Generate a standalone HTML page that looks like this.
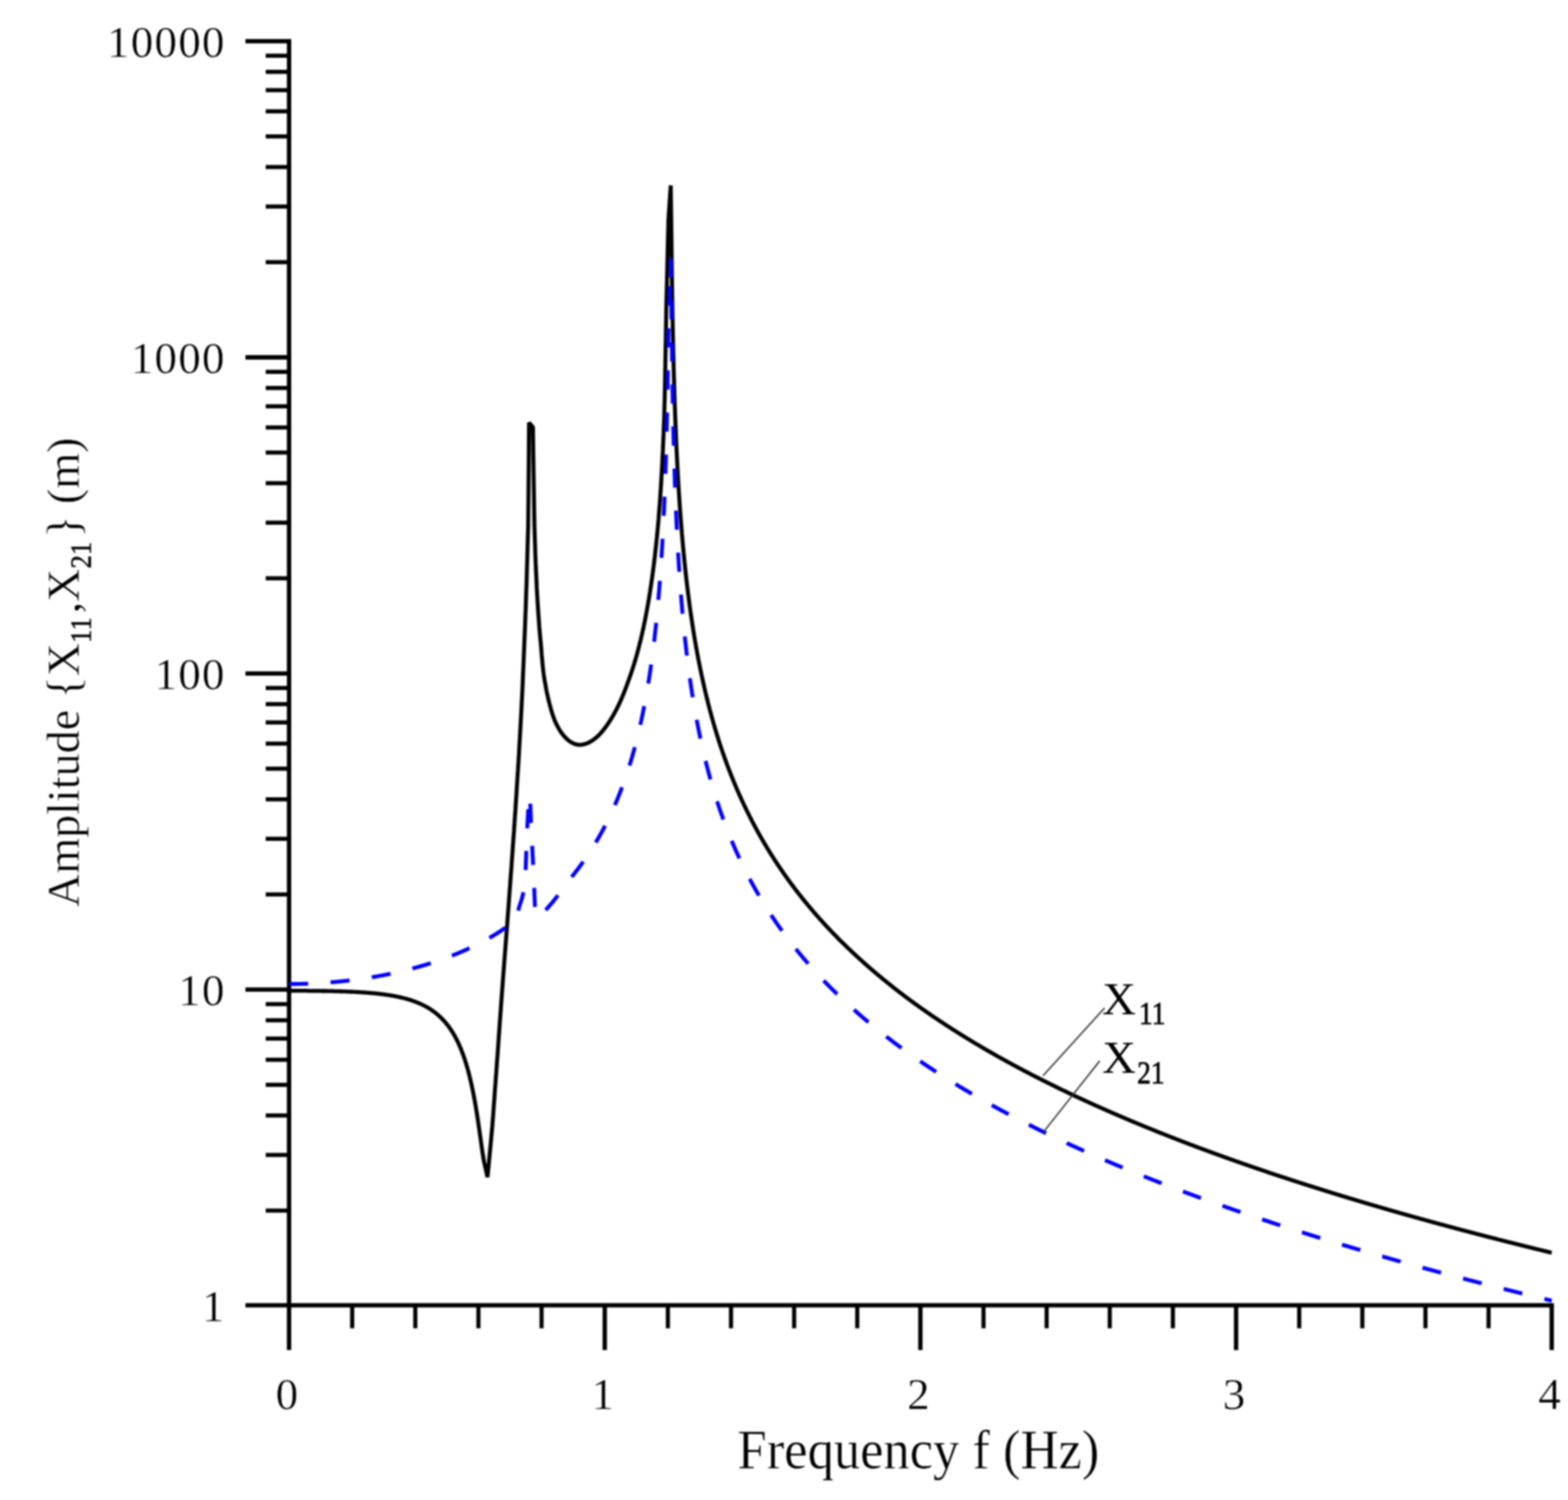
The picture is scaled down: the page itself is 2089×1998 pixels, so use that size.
<!DOCTYPE html>
<html lang="en">
<head>
<meta charset="utf-8">
<title>Amplitude vs Frequency</title>
<style>
html,body{margin:0;padding:0;background:#fff;}
body{width:2089px;height:1998px;overflow:hidden;}
svg{display:block;filter:blur(0.8px);}
</style>
</head>
<body>
<svg xmlns="http://www.w3.org/2000/svg" width="2089" height="1998" viewBox="0 0 2089 1998">
<rect width="2089" height="1998" fill="#fff"/>
<g stroke="#000" fill="none" stroke-linecap="butt">
<line x1="385.1" y1="52.0" x2="385.1" y2="1798.3" stroke-width="5.8"/>
<line x1="327" y1="1738.7" x2="2070.2" y2="1738.7" stroke-width="5.8"/>
<line x1="354" y1="1612.5" x2="385.1" y2="1612.5" stroke-width="5.5"/>
<line x1="354" y1="1538.4" x2="385.1" y2="1538.4" stroke-width="5.5"/>
<line x1="354" y1="1485.8" x2="385.1" y2="1485.8" stroke-width="5.5"/>
<line x1="354" y1="1445.0" x2="385.1" y2="1445.0" stroke-width="5.5"/>
<line x1="354" y1="1411.6" x2="385.1" y2="1411.6" stroke-width="5.5"/>
<line x1="354" y1="1383.4" x2="385.1" y2="1383.4" stroke-width="5.5"/>
<line x1="354" y1="1359.0" x2="385.1" y2="1359.0" stroke-width="5.5"/>
<line x1="354" y1="1337.5" x2="385.1" y2="1337.5" stroke-width="5.5"/>
<line x1="327" y1="1318.2" x2="385.1" y2="1318.2" stroke-width="5.8"/>
<line x1="354" y1="1191.4" x2="385.1" y2="1191.4" stroke-width="5.5"/>
<line x1="354" y1="1117.3" x2="385.1" y2="1117.3" stroke-width="5.5"/>
<line x1="354" y1="1064.7" x2="385.1" y2="1064.7" stroke-width="5.5"/>
<line x1="354" y1="1023.9" x2="385.1" y2="1023.9" stroke-width="5.5"/>
<line x1="354" y1="990.5" x2="385.1" y2="990.5" stroke-width="5.5"/>
<line x1="354" y1="962.3" x2="385.1" y2="962.3" stroke-width="5.5"/>
<line x1="354" y1="937.9" x2="385.1" y2="937.9" stroke-width="5.5"/>
<line x1="354" y1="916.4" x2="385.1" y2="916.4" stroke-width="5.5"/>
<line x1="327" y1="897.1" x2="385.1" y2="897.1" stroke-width="5.8"/>
<line x1="354" y1="770.3" x2="385.1" y2="770.3" stroke-width="5.5"/>
<line x1="354" y1="696.2" x2="385.1" y2="696.2" stroke-width="5.5"/>
<line x1="354" y1="643.6" x2="385.1" y2="643.6" stroke-width="5.5"/>
<line x1="354" y1="602.8" x2="385.1" y2="602.8" stroke-width="5.5"/>
<line x1="354" y1="569.4" x2="385.1" y2="569.4" stroke-width="5.5"/>
<line x1="354" y1="541.2" x2="385.1" y2="541.2" stroke-width="5.5"/>
<line x1="354" y1="516.8" x2="385.1" y2="516.8" stroke-width="5.5"/>
<line x1="354" y1="495.3" x2="385.1" y2="495.3" stroke-width="5.5"/>
<line x1="327" y1="476.0" x2="385.1" y2="476.0" stroke-width="5.8"/>
<line x1="354" y1="349.2" x2="385.1" y2="349.2" stroke-width="5.5"/>
<line x1="354" y1="275.1" x2="385.1" y2="275.1" stroke-width="5.5"/>
<line x1="354" y1="222.5" x2="385.1" y2="222.5" stroke-width="5.5"/>
<line x1="354" y1="181.7" x2="385.1" y2="181.7" stroke-width="5.5"/>
<line x1="354" y1="148.3" x2="385.1" y2="148.3" stroke-width="5.5"/>
<line x1="354" y1="120.1" x2="385.1" y2="120.1" stroke-width="5.5"/>
<line x1="354" y1="95.7" x2="385.1" y2="95.7" stroke-width="5.5"/>
<line x1="354" y1="74.2" x2="385.1" y2="74.2" stroke-width="5.5"/>
<line x1="327" y1="54.9" x2="385.1" y2="54.9" stroke-width="5.8"/>
<line x1="469.2" y1="1739.3" x2="469.2" y2="1769.3" stroke-width="5.5"/>
<line x1="553.3" y1="1739.3" x2="553.3" y2="1769.3" stroke-width="5.5"/>
<line x1="637.4" y1="1739.3" x2="637.4" y2="1769.3" stroke-width="5.5"/>
<line x1="721.5" y1="1739.3" x2="721.5" y2="1769.3" stroke-width="5.5"/>
<line x1="805.7" y1="1739.3" x2="805.7" y2="1798.3" stroke-width="5.8"/>
<line x1="889.8" y1="1739.3" x2="889.8" y2="1769.3" stroke-width="5.5"/>
<line x1="973.9" y1="1739.3" x2="973.9" y2="1769.3" stroke-width="5.5"/>
<line x1="1058.0" y1="1739.3" x2="1058.0" y2="1769.3" stroke-width="5.5"/>
<line x1="1142.1" y1="1739.3" x2="1142.1" y2="1769.3" stroke-width="5.5"/>
<line x1="1226.2" y1="1739.3" x2="1226.2" y2="1798.3" stroke-width="5.8"/>
<line x1="1310.3" y1="1739.3" x2="1310.3" y2="1769.3" stroke-width="5.5"/>
<line x1="1394.4" y1="1739.3" x2="1394.4" y2="1769.3" stroke-width="5.5"/>
<line x1="1478.5" y1="1739.3" x2="1478.5" y2="1769.3" stroke-width="5.5"/>
<line x1="1562.6" y1="1739.3" x2="1562.6" y2="1769.3" stroke-width="5.5"/>
<line x1="1646.8" y1="1739.3" x2="1646.8" y2="1798.3" stroke-width="5.8"/>
<line x1="1730.9" y1="1739.3" x2="1730.9" y2="1769.3" stroke-width="5.5"/>
<line x1="1815.0" y1="1739.3" x2="1815.0" y2="1769.3" stroke-width="5.5"/>
<line x1="1899.1" y1="1739.3" x2="1899.1" y2="1769.3" stroke-width="5.5"/>
<line x1="1983.2" y1="1739.3" x2="1983.2" y2="1769.3" stroke-width="5.5"/>
<line x1="2067.3" y1="1739.3" x2="2067.3" y2="1798.3" stroke-width="5.8"/>
</g>
<path d="M385.1,1319.7 L386.1,1319.7 L387.1,1319.7 L388.1,1319.7 L389.1,1319.7 L390.1,1319.7 L391.1,1319.7 L392.1,1319.7 L393.1,1319.7 L394.1,1319.7 L395.1,1319.7 L396.1,1319.7 L397.1,1319.7 L398.1,1319.7 L399.1,1319.7 L400.1,1319.7 L401.1,1319.7 L402.1,1319.7 L403.1,1319.7 L404.1,1319.7 L405.1,1319.7 L406.1,1319.7 L407.1,1319.7 L408.1,1319.7 L409.1,1319.7 L410.1,1319.8 L411.1,1319.8 L412.1,1319.8 L413.1,1319.8 L414.1,1319.8 L415.1,1319.8 L416.1,1319.8 L417.1,1319.8 L418.1,1319.8 L419.1,1319.8 L420.1,1319.8 L421.1,1319.9 L422.1,1319.9 L423.1,1319.9 L424.1,1319.9 L425.1,1319.9 L426.1,1319.9 L427.1,1319.9 L428.1,1319.9 L429.1,1320.0 L430.1,1320.0 L431.1,1320.0 L432.1,1320.0 L433.1,1320.0 L434.1,1320.0 L435.1,1320.1 L436.1,1320.1 L437.1,1320.1 L438.1,1320.1 L439.1,1320.1 L440.1,1320.1 L441.1,1320.2 L442.1,1320.2 L443.1,1320.2 L444.1,1320.2 L445.1,1320.3 L446.1,1320.3 L447.1,1320.3 L448.1,1320.3 L449.1,1320.4 L450.1,1320.4 L451.1,1320.4 L452.1,1320.4 L453.1,1320.5 L454.1,1320.5 L455.1,1320.5 L456.1,1320.6 L457.1,1320.6 L458.1,1320.6 L459.1,1320.7 L460.1,1320.7 L461.1,1320.7 L462.1,1320.8 L463.1,1320.8 L464.1,1320.9 L465.1,1320.9 L466.1,1320.9 L467.1,1321.0 L468.1,1321.0 L469.1,1321.1 L470.1,1321.1 L471.1,1321.2 L472.1,1321.2 L473.1,1321.3 L474.1,1321.3 L475.1,1321.4 L476.1,1321.4 L477.1,1321.5 L478.1,1321.5 L479.1,1321.6 L480.1,1321.6 L481.1,1321.7 L482.1,1321.8 L483.1,1321.8 L484.1,1321.9 L485.1,1322.0 L486.1,1322.0 L487.1,1322.1 L488.1,1322.2 L489.1,1322.3 L490.1,1322.3 L491.1,1322.4 L492.1,1322.5 L493.1,1322.6 L494.1,1322.7 L495.1,1322.8 L496.1,1322.8 L497.1,1322.9 L498.1,1323.0 L499.1,1323.1 L500.1,1323.2 L501.1,1323.3 L502.1,1323.4 L503.1,1323.5 L504.1,1323.6 L505.1,1323.8 L506.1,1323.9 L507.1,1324.0 L508.1,1324.1 L509.1,1324.2 L510.1,1324.4 L511.1,1324.5 L512.1,1324.6 L513.1,1324.8 L514.1,1324.9 L515.0,1325.0 L516.0,1325.2 L517.0,1325.3 L518.0,1325.5 L519.0,1325.6 L520.0,1325.8 L521.0,1326.0 L522.0,1326.1 L523.0,1326.3 L524.0,1326.5 L525.0,1326.7 L526.0,1326.9 L527.0,1327.1 L528.0,1327.3 L529.0,1327.5 L530.0,1327.7 L531.0,1327.9 L532.0,1328.1 L533.0,1328.3 L534.0,1328.6 L535.0,1328.8 L536.0,1329.0 L537.0,1329.3 L538.0,1329.5 L539.0,1329.8 L540.0,1330.0 L541.0,1330.3 L542.0,1330.6 L543.0,1330.9 L544.0,1331.2 L545.0,1331.5 L546.0,1331.8 L547.0,1332.1 L548.0,1332.4 L549.0,1332.8 L550.0,1333.1 L551.0,1333.5 L552.0,1333.8 L553.0,1334.2 L554.0,1334.6 L555.0,1335.0 L556.0,1335.4 L557.0,1335.8 L558.0,1336.2 L559.0,1336.6 L560.0,1337.1 L561.0,1337.5 L562.0,1338.0 L563.0,1338.5 L564.0,1339.0 L565.0,1339.5 L566.0,1340.0 L567.0,1340.5 L568.0,1341.1 L569.0,1341.6 L570.0,1342.2 L571.0,1342.8 L572.0,1343.4 L573.0,1344.1 L574.0,1344.7 L575.0,1345.4 L576.0,1346.1 L577.0,1346.8 L578.0,1347.5 L579.0,1348.2 L580.0,1349.0 L581.0,1349.8 L582.0,1350.6 L583.0,1351.5 L584.0,1352.3 L585.0,1353.2 L586.0,1354.1 L587.0,1355.1 L588.0,1356.1 L589.0,1357.1 L590.0,1358.1 L591.0,1359.2 L592.0,1360.3 L593.0,1361.4 L594.0,1362.6 L595.0,1363.8 L596.0,1365.1 L597.0,1366.4 L598.0,1367.7 L599.0,1369.1 L600.0,1370.5 L601.0,1372.0 L602.0,1373.6 L603.0,1375.2 L604.0,1376.8 L605.0,1378.5 L606.0,1380.3 L607.0,1382.1 L608.0,1384.0 L609.0,1386.0 L610.0,1388.0 L611.0,1390.2 L612.0,1392.4 L613.0,1394.7 L614.0,1397.1 L615.0,1399.6 L616.0,1402.2 L617.0,1404.9 L618.0,1407.7 L619.0,1410.6 L620.0,1413.7 L621.0,1416.9 L622.0,1420.3 L623.0,1423.8 L624.0,1427.4 L625.0,1431.3 L626.0,1435.3 L627.0,1439.5 L628.0,1443.9 L629.0,1448.5 L630.0,1453.3 L631.0,1458.4 L632.0,1463.7 L633.0,1469.2 L634.0,1475.1 L635.0,1481.1 L636.0,1487.5 L637.0,1494.1 L638.0,1500.9 L639.0,1507.9 L640.0,1515.0 L641.0,1522.2 L642.0,1529.3 L643.0,1536.2 L644.0,1542.5 L645.0,1548.0 L649.5,1568.0 L653.5,1525.9 L654.1,1520.1 L654.6,1514.0 L655.2,1507.6 L655.8,1500.9 L656.3,1494.0 L656.9,1487.0 L657.4,1479.8 L657.9,1472.6 L658.5,1465.2 L659.0,1457.8 L659.5,1450.4 L660.1,1443.0 L660.6,1435.6 L661.2,1428.2 L661.7,1420.8 L662.2,1413.5 L662.8,1406.2 L663.3,1398.9 L663.8,1391.7 L664.3,1384.5 L664.8,1377.3 L665.3,1370.3 L665.8,1363.2 L666.3,1356.2 L666.8,1349.3 L667.3,1342.4 L667.8,1335.5 L668.3,1328.7 L668.8,1322.0 L669.3,1315.3 L669.8,1308.6 L670.3,1301.9 L670.8,1295.3 L671.3,1288.7 L671.8,1282.2 L672.3,1275.6 L672.8,1269.1 L673.3,1262.7 L673.8,1256.2 L674.3,1249.8 L674.8,1243.3 L675.3,1236.9 L675.8,1230.5 L676.2,1224.1 L676.7,1217.7 L677.2,1211.3 L677.7,1204.9 L678.1,1198.5 L678.6,1192.1 L679.1,1185.6 L679.6,1179.2 L680.0,1172.7 L680.5,1166.3 L681.0,1159.8 L681.5,1153.2 L681.9,1146.7 L682.4,1140.1 L682.9,1133.5 L683.3,1126.8 L683.8,1120.1 L684.3,1113.4 L684.8,1106.5 L685.2,1099.7 L685.7,1092.8 L686.2,1085.8 L686.7,1078.7 L687.1,1071.5 L687.6,1064.3 L688.1,1057.0 L688.5,1049.6 L689.0,1042.1 L689.5,1034.4 L690.0,1026.7 L690.5,1018.8 L691.0,1010.8 L691.5,1002.6 L691.9,994.3 L692.4,985.8 L692.9,977.1 L693.4,968.2 L693.9,959.1 L694.4,949.8 L694.9,940.2 L695.4,930.3 L695.9,920.1 L696.4,909.5 L696.8,898.6 L697.3,887.3 L697.8,875.5 L698.3,863.2 L698.8,850.4 L699.4,836.9 L699.9,822.6 L700.5,807.5 L701.0,791.5 L701.6,774.3 L702.1,755.8 L702.7,735.7 L703.3,713.6 L703.7,700.0 L704.5,612.0 L704.8,563.0 L710.0,569.0 L710.6,612.0 L712.0,700.0 L712.3,709.7 L712.8,724.7 L713.2,738.3 L713.7,750.7 L714.2,762.1 L714.7,772.6 L715.1,782.4 L715.6,791.4 L716.1,799.9 L716.6,807.8 L717.1,815.3 L717.6,822.3 L718.1,828.9 L718.5,835.2 L719.0,841.1 L719.5,846.8 L720.0,852.1 L720.5,857.2 L720.9,862.1 L721.3,866.7 L721.6,871.2 L722.0,875.4 L722.4,879.5 L722.7,883.4 L723.1,887.1 L723.5,890.7 L723.9,894.2 L724.3,897.5 L724.7,900.7 L725.2,903.7 L725.7,906.7 L726.2,909.6 L726.7,912.3 L727.2,915.0 L727.6,917.5 L728.1,920.0 L728.6,922.4 L729.1,924.7 L729.6,927.0 L730.1,929.2 L730.6,931.3 L731.1,933.4 L731.6,935.4 L732.1,937.4 L732.6,939.3 L733.1,941.1 L733.6,942.9 L734.1,944.7 L734.5,946.3 L735.0,948.0 L735.5,949.6 L736.0,951.1 L736.5,952.6 L737.0,954.1 L737.5,955.5 L738.0,956.8 L738.5,958.2 L739.0,959.5 L739.5,960.7 L740.0,961.9 L740.6,963.1 L741.2,964.3 L741.7,965.4 L742.3,966.5 L742.9,967.6 L743.4,968.6 L744.0,969.6 L744.5,970.6 L745.1,971.5 L745.6,972.5 L746.2,973.3 L746.7,974.2 L747.3,975.0 L747.8,975.8 L748.4,976.5 L748.9,977.3 L749.4,978.0 L750.0,978.7 L750.5,979.3 L751.1,980.0 L751.6,980.6 L752.1,981.2 L752.7,981.8 L753.2,982.4 L753.7,982.9 L754.3,983.4 L754.8,983.9 L755.3,984.4 L755.8,984.9 L756.4,985.4 L756.9,985.8 L757.4,986.2 L757.9,986.6 L758.5,987.0 L759.0,987.4 L759.5,987.7 L760.0,988.1 L760.5,988.4 L761.0,988.7 L761.5,989.0 L762.0,989.3 L762.5,989.5 L763.0,989.8 L763.5,990.0 L764.0,990.3 L764.5,990.5 L765.0,990.7 L765.5,990.9 L766.0,991.0 L766.5,991.2 L767.0,991.3 L767.5,991.5 L768.0,991.6 L768.5,991.7 L769.0,991.8 L769.5,991.9 L770.0,992.0 L770.5,992.0 L771.0,992.1 L771.5,992.1 L772.0,992.1 L772.5,992.1 L773.0,992.1 L773.5,992.1 L774.0,992.0 L774.5,992.0 L775.0,991.9 L775.5,991.9 L776.0,991.8 L776.5,991.7 L777.0,991.6 L777.5,991.5 L778.0,991.4 L778.5,991.2 L779.0,991.1 L779.5,991.0 L780.0,990.8 L780.5,990.6 L781.0,990.5 L781.5,990.3 L782.0,990.1 L782.5,989.9 L783.0,989.7 L783.5,989.4 L784.0,989.2 L784.5,989.0 L785.0,988.7 L785.5,988.5 L786.0,988.2 L786.5,987.9 L787.0,987.6 L787.5,987.3 L788.0,987.0 L788.5,986.7 L789.0,986.4 L789.5,986.1 L790.0,985.7 L790.5,985.4 L791.0,985.0 L791.5,984.7 L792.0,984.3 L792.5,983.9 L793.0,983.5 L793.5,983.1 L794.0,982.7 L794.5,982.3 L795.0,981.9 L795.5,981.4 L796.0,981.0 L796.5,980.5 L797.0,980.1 L797.5,979.6 L798.0,979.1 L798.5,978.5 L799.0,978.0 L799.5,977.5 L800.0,976.9 L800.5,976.3 L801.0,975.8 L801.5,975.2 L802.0,974.6 L802.5,974.0 L803.0,973.4 L803.5,972.8 L804.0,972.2 L804.5,971.6 L805.0,970.9 L805.5,970.3 L806.0,969.6 L806.5,968.9 L807.0,968.3 L807.5,967.6 L808.0,966.9 L808.5,966.2 L809.0,965.5 L809.5,964.8 L810.0,964.0 L810.5,963.3 L811.0,962.6 L811.5,961.8 L812.0,961.0 L812.5,960.2 L813.0,959.5 L813.5,958.7 L814.0,957.8 L814.5,957.0 L815.0,956.2 L815.5,955.4 L816.0,954.5 L816.5,953.7 L817.0,952.8 L817.5,951.9 L818.0,951.0 L818.5,950.1 L819.0,949.2 L819.5,948.3 L820.0,947.4 L820.5,946.4 L821.0,945.5 L821.5,944.5 L822.0,943.5 L822.5,942.5 L823.0,941.5 L823.5,940.5 L824.0,939.5 L824.5,938.5 L825.0,937.4 L825.5,936.3 L826.0,935.2 L826.5,934.1 L827.0,933.0 L827.5,931.8 L828.0,930.7 L828.5,929.5 L829.0,928.3 L829.5,927.1 L830.0,925.9 L830.5,924.7 L831.0,923.4 L831.5,922.2 L832.0,920.9 L832.5,919.6 L833.0,918.3 L833.5,917.0 L834.0,915.7 L834.5,914.3 L835.0,913.0 L835.5,911.6 L836.0,910.2 L836.5,908.8 L837.0,907.4 L837.5,906.1 L838.0,904.7 L838.5,903.3 L839.0,901.9 L839.5,900.5 L840.0,899.1 L840.5,897.6 L841.0,896.2 L841.5,894.7 L842.0,893.2 L842.5,891.6 L843.0,890.1 L843.5,888.5 L844.0,886.9 L844.5,885.3 L845.0,883.7 L845.5,882.0 L846.0,880.4 L846.5,878.7 L847.0,877.0 L847.5,875.2 L848.0,873.5 L848.5,871.7 L849.0,869.9 L849.5,868.0 L850.0,866.2 L850.5,864.3 L851.0,862.4 L851.5,860.4 L852.0,858.5 L852.5,856.5 L853.0,854.4 L853.5,852.4 L854.0,850.3 L854.5,848.2 L855.0,846.0 L855.5,843.8 L856.0,841.6 L856.5,839.3 L857.0,837.0 L857.5,834.7 L858.0,832.3 L858.5,829.9 L859.0,827.5 L859.5,825.0 L860.0,822.5 L860.5,819.9 L861.0,817.3 L861.5,814.6 L862.0,811.9 L862.5,809.1 L863.0,806.3 L863.5,803.5 L864.0,800.5 L864.5,797.6 L865.0,794.5 L865.5,791.4 L866.0,788.3 L866.5,785.0 L867.0,781.7 L867.5,778.4 L868.0,774.9 L868.5,771.4 L869.0,767.8 L869.5,764.2 L870.0,760.4 L870.5,756.5 L871.0,752.6 L871.5,748.6 L872.0,744.4 L872.5,740.2 L873.0,735.8 L873.5,731.3 L874.0,726.7 L874.5,722.0 L875.0,717.1 L875.5,712.0 L876.0,706.9 L876.5,701.5 L877.0,696.0 L877.5,690.3 L877.9,684.3 L878.4,678.2 L878.9,671.9 L879.4,665.3 L879.8,658.4 L880.3,651.2 L880.8,643.8 L881.2,636.0 L881.7,627.8 L882.2,619.2 L882.6,610.2 L883.1,600.7 L883.5,590.6 L884.0,580.0 L884.4,568.6 L884.9,556.5 L885.2,543.5 L885.6,529.4 L885.9,514.1 L886.2,497.4 L886.5,479.0 L886.9,458.5 L887.3,435.3 L887.7,408.6 L888.5,377.3 L889.4,339.5 L890.6,291.6 L893.6,247.0 L894.5,311.4 L895.0,355.6 L895.5,391.2 L896.0,421.1 L896.5,446.8 L897.0,469.4 L897.5,489.5 L898.0,507.7 L898.5,524.3 L899.0,539.5 L899.5,553.6 L900.0,566.7 L900.5,578.9 L901.0,590.5 L901.5,601.3 L902.0,611.6 L902.5,621.3 L903.0,630.6 L903.5,639.4 L904.0,647.9 L904.5,656.0 L905.0,663.7 L905.5,671.2 L906.0,678.4 L906.5,685.3 L907.0,692.0 L907.5,698.5 L908.0,704.7 L908.5,710.8 L909.0,716.7 L909.5,722.4 L910.0,728.0 L910.5,733.3 L911.0,738.6 L911.5,743.7 L912.0,748.7 L912.5,753.6 L913.0,758.3 L913.5,762.9 L914.0,767.5 L914.5,771.9 L915.0,776.2 L915.5,780.5 L916.0,784.6 L916.5,788.7 L917.0,792.7 L917.5,796.6 L918.0,800.4 L918.5,804.2 L919.0,807.9 L919.5,811.5 L920.0,815.1 L920.5,818.6 L921.0,822.0 L921.5,825.4 L922.0,828.7 L922.5,832.0 L923.0,835.2 L923.5,838.4 L924.0,841.5 L924.5,844.6 L925.0,847.7 L925.5,850.6 L926.0,853.6 L926.5,856.5 L927.0,859.4 L927.5,862.2 L928.0,865.0 L928.5,867.7 L929.0,870.4 L929.5,873.1 L930.0,875.8 L930.5,878.4 L931.0,881.0 L931.5,883.5 L932.0,886.0 L932.5,888.5 L933.0,891.0 L933.5,893.4 L934.0,895.8 L934.5,898.2 L935.0,900.5 L935.5,902.9 L936.0,905.2 L936.5,907.4 L937.0,909.7 L937.5,911.9 L938.0,914.1 L938.5,916.3 L939.0,918.4 L939.5,920.6 L940.0,922.7 L940.5,924.8 L941.0,926.9 L941.5,928.9 L942.0,931.0 L942.5,933.0 L943.0,935.0 L943.5,936.9 L944.0,938.9 L944.5,940.8 L945.0,942.8 L945.5,944.7 L946.0,946.6 L946.5,948.4 L947.0,950.3 L947.5,952.1 L948.0,954.0 L948.5,955.8 L949.0,957.6 L949.5,959.4 L950.0,961.1 L950.5,962.9 L951.0,964.6 L951.5,966.4 L952.0,968.1 L952.5,969.8 L953.0,971.5 L953.5,973.1 L954.0,974.8 L954.5,976.4 L955.0,978.1 L955.5,979.7 L956.0,981.3 L956.5,982.9 L957.0,984.5 L957.5,986.1 L958.0,987.7 L958.5,989.2 L959.0,990.8 L959.5,992.3 L960.0,993.8 L960.5,995.3 L961.0,996.8 L961.5,998.3 L962.0,999.7 L962.5,1001.2 L963.0,1002.7 L963.5,1004.1 L964.0,1005.5 L964.5,1006.9 L965.0,1008.3 L965.5,1009.7 L966.0,1011.1 L966.5,1012.5 L967.0,1013.9 L967.5,1015.3 L968.0,1016.6 L968.5,1018.0 L969.0,1019.3 L969.5,1020.7 L970.0,1022.0 L970.5,1023.3 L971.0,1024.6 L971.5,1025.9 L972.0,1027.2 L972.5,1028.5 L973.0,1029.8 L973.5,1031.0 L974.0,1032.3 L974.5,1033.6 L975.0,1034.8 L975.5,1036.1 L976.0,1037.3 L976.5,1038.5 L977.0,1039.7 L977.5,1041.0 L978.0,1042.2 L978.5,1043.4 L979.0,1044.6 L979.5,1045.8 L980.0,1047.0 L980.5,1048.1 L981.0,1049.3 L981.5,1050.5 L982.0,1051.6 L982.5,1052.8 L983.0,1053.9 L983.5,1055.1 L984.0,1056.2 L984.5,1057.3 L985.0,1058.5 L985.5,1059.6 L986.0,1060.7 L986.5,1061.8 L987.0,1062.9 L987.5,1064.0 L988.0,1065.1 L988.5,1066.2 L989.0,1067.3 L989.5,1068.4 L990.0,1069.4 L990.5,1070.5 L991.0,1071.6 L991.5,1072.6 L992.0,1073.7 L992.5,1074.7 L993.0,1075.8 L993.5,1076.8 L994.0,1077.8 L994.5,1078.9 L995.0,1079.9 L995.5,1080.9 L996.0,1081.9 L996.5,1082.9 L997.0,1083.9 L997.5,1084.9 L998.0,1085.9 L998.5,1086.9 L999.0,1087.9 L999.5,1088.9 L1000.0,1089.9 L1000.5,1090.8 L1001.0,1091.8 L1001.5,1092.8 L1002.0,1093.8 L1002.5,1094.7 L1003.0,1095.7 L1003.5,1096.6 L1004.0,1097.6 L1004.5,1098.5 L1005.0,1099.5 L1005.5,1100.4 L1006.0,1101.3 L1006.5,1102.3 L1007.0,1103.2 L1007.5,1104.1 L1008.0,1105.0 L1008.5,1105.9 L1009.0,1106.8 L1009.5,1107.7 L1010.0,1108.7 L1010.5,1109.6 L1011.0,1110.4 L1011.5,1111.3 L1012.0,1112.2 L1012.5,1113.1 L1013.0,1114.0 L1013.5,1114.9 L1014.0,1115.8 L1014.5,1116.6 L1015.0,1117.5 L1015.5,1118.4 L1016.0,1119.2 L1016.5,1120.1 L1017.0,1120.9 L1017.5,1121.8 L1018.0,1122.7 L1018.5,1123.5 L1019.0,1124.3 L1019.5,1125.2 L1020.0,1126.0 L1020.5,1126.9 L1021.0,1127.7 L1021.5,1128.5 L1022.0,1129.4 L1022.5,1130.2 L1023.0,1131.0 L1023.5,1131.8 L1024.0,1132.6 L1024.5,1133.4 L1025.0,1134.3 L1025.5,1135.1 L1026.0,1135.9 L1026.5,1136.7 L1027.0,1137.5 L1027.5,1138.3 L1028.0,1139.1 L1028.5,1139.8 L1029.0,1140.6 L1029.5,1141.4 L1030.0,1142.2 L1030.5,1143.0 L1031.0,1143.8 L1031.5,1144.5 L1032.0,1145.3 L1032.5,1146.1 L1033.0,1146.9 L1033.5,1147.6 L1034.0,1148.4 L1034.5,1149.1 L1035.0,1149.9 L1035.5,1150.7 L1036.0,1151.4 L1036.5,1152.2 L1037.0,1152.9 L1037.5,1153.7 L1038.0,1154.4 L1038.5,1155.1 L1039.0,1155.9 L1039.5,1156.6 L1040.0,1157.4 L1040.5,1158.1 L1041.0,1158.8 L1041.5,1159.5 L1042.0,1160.3 L1042.5,1161.0 L1043.0,1161.7 L1043.5,1162.4 L1044.0,1163.2 L1044.5,1163.9 L1045.0,1164.6 L1045.5,1165.3 L1046.0,1166.0 L1046.5,1166.7 L1047.0,1167.4 L1047.5,1168.1 L1048.0,1168.8 L1048.5,1169.5 L1049.0,1170.2 L1049.5,1170.9 L1050.0,1171.6 L1050.5,1172.3 L1051.0,1173.0 L1051.5,1173.7 L1052.0,1174.4 L1052.5,1175.0 L1053.0,1175.7 L1053.5,1176.4 L1054.0,1177.1 L1054.5,1177.7 L1055.0,1178.4 L1055.5,1179.1 L1056.0,1179.8 L1056.5,1180.4 L1057.0,1181.1 L1057.5,1181.8 L1058.0,1182.4 L1058.5,1183.1 L1059.0,1183.7 L1059.5,1184.4 L1060.0,1185.1 L1060.5,1185.7 L1061.0,1186.4 L1061.5,1187.0 L1062.0,1187.7 L1062.5,1188.3 L1063.0,1188.9 L1063.5,1189.6 L1064.0,1190.2 L1064.5,1190.9 L1065.0,1191.5 L1065.5,1192.1 L1066.0,1192.8 L1066.5,1193.4 L1067.0,1194.0 L1067.5,1194.7 L1068.0,1195.3 L1068.5,1195.9 L1069.0,1196.6 L1069.5,1197.2 L1070.0,1197.8 L1070.5,1198.4 L1071.0,1199.0 L1071.5,1199.7 L1072.0,1200.3 L1072.5,1200.9 L1073.0,1201.5 L1073.5,1202.1 L1074.0,1202.7 L1074.5,1203.3 L1075.0,1203.9 L1075.5,1204.5 L1076.0,1205.1 L1076.5,1205.8 L1077.0,1206.4 L1077.5,1207.0 L1078.0,1207.5 L1078.5,1208.1 L1079.0,1208.7 L1079.5,1209.3 L1080.0,1209.9 L1080.5,1210.5 L1081.0,1211.1 L1081.5,1211.7 L1082.0,1212.3 L1082.5,1212.9 L1083.0,1213.5 L1083.5,1214.0 L1084.0,1214.6 L1084.5,1215.2 L1085.0,1215.8 L1085.5,1216.3 L1086.0,1216.9 L1086.5,1217.5 L1087.0,1218.1 L1087.5,1218.6 L1088.0,1219.2 L1088.5,1219.8 L1089.0,1220.4 L1089.5,1220.9 L1090.0,1221.5 L1090.5,1222.0 L1091.0,1222.6 L1091.5,1223.2 L1092.0,1223.7 L1092.5,1224.3 L1093.0,1224.8 L1093.5,1225.4 L1094.0,1226.0 L1094.5,1226.5 L1095.0,1227.1 L1095.5,1227.6 L1096.0,1228.2 L1096.5,1228.7 L1097.0,1229.3 L1097.5,1229.8 L1098.0,1230.4 L1098.5,1230.9 L1099.0,1231.4 L1099.5,1232.0 L1100.0,1232.5 L1100.5,1233.1 L1101.0,1233.6 L1101.5,1234.1 L1102.0,1234.7 L1102.5,1235.2 L1103.0,1235.8 L1103.5,1236.3 L1104.0,1236.8 L1104.5,1237.3 L1105.0,1237.9 L1105.5,1238.4 L1106.0,1238.9 L1106.5,1239.5 L1107.0,1240.0 L1107.5,1240.5 L1108.0,1241.0 L1108.5,1241.6 L1109.0,1242.1 L1109.5,1242.6 L1110.0,1243.1 L1110.5,1243.6 L1111.0,1244.1 L1111.5,1244.7 L1112.0,1245.2 L1112.5,1245.7 L1113.0,1246.2 L1113.5,1246.7 L1114.0,1247.2 L1114.5,1247.7 L1115.0,1248.2 L1115.5,1248.7 L1116.0,1249.3 L1116.5,1249.8 L1117.0,1250.3 L1117.5,1250.8 L1118.0,1251.3 L1118.5,1251.8 L1119.0,1252.3 L1119.5,1252.8 L1120.0,1253.3 L1120.5,1253.8 L1121.0,1254.3 L1121.5,1254.8 L1122.0,1255.3 L1122.5,1255.7 L1123.0,1256.2 L1123.5,1256.7 L1124.0,1257.2 L1124.5,1257.7 L1125.0,1258.2 L1125.5,1258.7 L1126.0,1259.2 L1126.5,1259.7 L1127.0,1260.1 L1127.5,1260.6 L1128.0,1261.1 L1128.5,1261.6 L1129.0,1262.1 L1129.5,1262.6 L1130.0,1263.0 L1130.5,1263.5 L1131.0,1264.0 L1131.5,1264.5 L1132.0,1264.9 L1132.5,1265.4 L1133.0,1265.9 L1133.5,1266.4 L1134.0,1266.8 L1134.5,1267.3 L1135.0,1267.8 L1135.5,1268.3 L1136.0,1268.7 L1136.5,1269.2 L1137.0,1269.7 L1137.5,1270.1 L1138.0,1270.6 L1138.5,1271.1 L1139.0,1271.5 L1139.5,1272.0 L1140.0,1272.4 L1140.5,1272.9 L1141.0,1273.4 L1141.5,1273.8 L1142.0,1274.3 L1142.5,1274.7 L1143.0,1275.2 L1143.5,1275.7 L1144.0,1276.1 L1144.5,1276.6 L1145.0,1277.0 L1145.5,1277.5 L1146.0,1277.9 L1146.5,1278.4 L1147.0,1278.8 L1147.5,1279.3 L1148.0,1279.7 L1148.5,1280.2 L1149.0,1280.6 L1149.5,1281.1 L1150.0,1281.5 L1150.5,1282.0 L1151.0,1282.4 L1151.5,1282.9 L1152.0,1283.3 L1152.5,1283.8 L1153.0,1284.2 L1153.5,1284.6 L1154.0,1285.1 L1154.5,1285.5 L1155.0,1286.0 L1155.5,1286.4 L1156.0,1286.8 L1156.5,1287.3 L1157.0,1287.7 L1157.5,1288.1 L1158.0,1288.6 L1158.5,1289.0 L1159.0,1289.4 L1159.5,1289.9 L1160.0,1290.3 L1160.5,1290.7 L1161.0,1291.2 L1161.5,1291.6 L1162.0,1292.0 L1162.5,1292.5 L1163.0,1292.9 L1163.5,1293.3 L1164.0,1293.7 L1164.5,1294.2 L1165.0,1294.6 L1165.5,1295.0 L1166.0,1295.4 L1166.5,1295.9 L1167.0,1296.3 L1167.5,1296.7 L1168.0,1297.1 L1168.5,1297.5 L1169.0,1298.0 L1169.5,1298.4 L1170.0,1298.8 L1170.5,1299.2 L1171.0,1299.6 L1171.5,1300.0 L1172.0,1300.5 L1172.5,1300.9 L1173.0,1301.3 L1173.5,1301.7 L1174.0,1302.1 L1174.5,1302.5 L1175.0,1302.9 L1175.5,1303.3 L1176.0,1303.8 L1176.5,1304.2 L1177.0,1304.6 L1177.5,1305.0 L1178.0,1305.4 L1178.5,1305.8 L1179.0,1306.2 L1179.5,1306.6 L1180.0,1307.0 L1180.5,1307.4 L1181.0,1307.8 L1181.5,1308.2 L1182.0,1308.6 L1182.5,1309.0 L1183.0,1309.4 L1183.5,1309.8 L1184.0,1310.2 L1184.5,1310.6 L1185.0,1311.0 L1185.5,1311.4 L1186.0,1311.8 L1186.5,1312.2 L1187.0,1312.6 L1187.5,1313.0 L1187.9,1313.4 L1188.4,1313.8 L1188.9,1314.2 L1189.4,1314.6 L1189.9,1315.0 L1190.4,1315.4 L1190.9,1315.8 L1191.4,1316.2 L1191.9,1316.6 L1192.4,1317.0 L1192.9,1317.3 L1193.4,1317.7 L1193.9,1318.1 L1194.4,1318.5 L1194.9,1318.9 L1195.4,1319.3 L1195.9,1319.7 L1196.4,1320.1 L1196.9,1320.4 L1197.4,1320.8 L1197.9,1321.2 L1198.4,1321.6 L1198.9,1322.0 L1199.4,1322.4 L1199.9,1322.7 L1200.4,1323.1 L1200.9,1323.5 L1201.4,1323.9 L1201.9,1324.3 L1202.4,1324.6 L1202.9,1325.0 L1203.4,1325.4 L1203.9,1325.8 L1204.4,1326.2 L1204.9,1326.5 L1205.4,1326.9 L1205.9,1327.3 L1206.4,1327.7 L1206.9,1328.0 L1207.4,1328.4 L1207.9,1328.8 L1208.4,1329.2 L1208.9,1329.5 L1209.4,1329.9 L1209.9,1330.3 L1210.4,1330.6 L1210.9,1331.0 L1211.4,1331.4 L1211.9,1331.8 L1212.4,1332.1 L1212.9,1332.5 L1213.4,1332.9 L1213.9,1333.2 L1214.4,1333.6 L1214.9,1334.0 L1215.4,1334.3 L1215.9,1334.7 L1216.4,1335.1 L1216.9,1335.4 L1217.4,1335.8 L1217.9,1336.1 L1218.4,1336.5 L1218.9,1336.9 L1219.4,1337.2 L1219.9,1337.6 L1220.4,1338.0 L1220.9,1338.3 L1221.4,1338.7 L1221.9,1339.0 L1222.4,1339.4 L1222.9,1339.8 L1223.4,1340.1 L1223.9,1340.5 L1224.4,1340.8 L1224.9,1341.2 L1225.4,1341.5 L1225.9,1341.9 L1226.4,1342.3 L1226.9,1342.6 L1227.4,1343.0 L1227.9,1343.3 L1228.4,1343.7 L1228.9,1344.0 L1229.4,1344.4 L1229.9,1344.7 L1230.4,1345.1 L1230.9,1345.4 L1231.4,1345.8 L1231.9,1346.1 L1232.4,1346.5 L1232.9,1346.8 L1233.4,1347.2 L1233.9,1347.5 L1234.4,1347.9 L1234.9,1348.2 L1235.4,1348.6 L1235.9,1348.9 L1236.4,1349.3 L1236.9,1349.6 L1237.4,1350.0 L1237.9,1350.3 L1238.4,1350.6 L1238.9,1351.0 L1239.4,1351.3 L1239.9,1351.7 L1240.4,1352.0 L1240.9,1352.4 L1241.4,1352.7 L1241.9,1353.0 L1242.4,1353.4 L1242.9,1353.7 L1243.4,1354.1 L1243.9,1354.4 L1244.4,1354.7 L1244.9,1355.1 L1245.4,1355.4 L1245.9,1355.8 L1246.4,1356.1 L1246.9,1356.4 L1247.4,1356.8 L1247.9,1357.1 L1248.4,1357.4 L1248.9,1357.8 L1249.4,1358.1 L1249.9,1358.5 L1250.4,1358.8 L1250.9,1359.1 L1251.4,1359.5 L1251.9,1359.8 L1252.4,1360.1 L1252.9,1360.5 L1253.4,1360.8 L1253.9,1361.1 L1254.4,1361.4 L1254.9,1361.8 L1255.4,1362.1 L1255.9,1362.4 L1256.4,1362.8 L1256.9,1363.1 L1257.4,1363.4 L1257.9,1363.8 L1258.4,1364.1 L1258.9,1364.4 L1259.4,1364.7 L1259.9,1365.1 L1260.4,1365.4 L1260.9,1365.7 L1261.4,1366.0 L1261.9,1366.4 L1262.4,1366.7 L1262.9,1367.0 L1263.4,1367.3 L1263.9,1367.7 L1264.4,1368.0 L1264.9,1368.3 L1265.4,1368.6 L1265.9,1369.0 L1266.4,1369.3 L1266.9,1369.6 L1267.4,1369.9 L1267.9,1370.2 L1268.4,1370.6 L1268.9,1370.9 L1269.4,1371.2 L1269.9,1371.5 L1270.4,1371.8 L1270.9,1372.2 L1271.4,1372.5 L1271.9,1372.8 L1272.4,1373.1 L1272.9,1373.4 L1273.4,1373.8 L1273.9,1374.1 L1274.4,1374.4 L1274.9,1374.7 L1275.4,1375.0 L1275.9,1375.3 L1276.4,1375.6 L1276.9,1376.0 L1277.4,1376.3 L1277.9,1376.6 L1278.4,1376.9 L1278.9,1377.2 L1279.4,1377.5 L1279.9,1377.8 L1280.4,1378.2 L1280.9,1378.5 L1281.4,1378.8 L1281.9,1379.1 L1282.4,1379.4 L1282.9,1379.7 L1283.4,1380.0 L1283.9,1380.3 L1284.4,1380.6 L1284.9,1380.9 L1285.4,1381.3 L1285.9,1381.6 L1286.4,1381.9 L1286.9,1382.2 L1287.4,1382.5 L1287.9,1382.8 L1288.4,1383.1 L1288.9,1383.4 L1289.4,1383.7 L1289.9,1384.0 L1290.4,1384.3 L1290.9,1384.6 L1291.4,1384.9 L1291.9,1385.2 L1292.4,1385.5 L1292.9,1385.8 L1293.4,1386.1 L1293.9,1386.4 L1294.4,1386.7 L1294.9,1387.0 L1295.4,1387.4 L1295.9,1387.7 L1296.4,1388.0 L1296.9,1388.3 L1297.4,1388.6 L1297.9,1388.9 L1298.4,1389.2 L1298.9,1389.5 L1299.4,1389.8 L1299.9,1390.1 L1300.4,1390.4 L1300.9,1390.6 L1301.4,1390.9 L1301.9,1391.2 L1302.4,1391.5 L1302.9,1391.8 L1303.4,1392.1 L1303.9,1392.4 L1304.4,1392.7 L1304.9,1393.0 L1305.4,1393.3 L1305.9,1393.6 L1306.4,1393.9 L1306.9,1394.2 L1307.4,1394.5 L1307.9,1394.8 L1308.4,1395.1 L1308.9,1395.4 L1309.4,1395.7 L1309.9,1396.0 L1310.4,1396.3 L1310.9,1396.6 L1311.4,1396.8 L1311.9,1397.1 L1312.4,1397.4 L1312.9,1397.7 L1313.4,1398.0 L1313.9,1398.3 L1314.4,1398.6 L1314.9,1398.9 L1315.4,1399.2 L1315.9,1399.5 L1316.4,1399.7 L1316.9,1400.0 L1317.4,1400.3 L1317.9,1400.6 L1318.4,1400.9 L1318.9,1401.2 L1319.4,1401.5 L1319.9,1401.8 L1320.4,1402.0 L1320.9,1402.3 L1321.4,1402.6 L1321.9,1402.9 L1322.4,1403.2 L1322.9,1403.5 L1323.4,1403.8 L1323.9,1404.0 L1324.4,1404.3 L1324.9,1404.6 L1325.4,1404.9 L1325.9,1405.2 L1326.4,1405.5 L1326.9,1405.7 L1327.4,1406.0 L1327.9,1406.3 L1328.4,1406.6 L1328.9,1406.9 L1329.4,1407.2 L1329.9,1407.4 L1330.4,1407.7 L1330.9,1408.0 L1331.4,1408.3 L1331.9,1408.6 L1332.4,1408.8 L1332.9,1409.1 L1333.4,1409.4 L1333.9,1409.7 L1334.4,1410.0 L1334.9,1410.2 L1335.4,1410.5 L1335.9,1410.8 L1336.4,1411.1 L1336.9,1411.3 L1337.4,1411.6 L1337.9,1411.9 L1338.4,1412.2 L1338.9,1412.4 L1339.4,1412.7 L1339.9,1413.0 L1340.4,1413.3 L1340.9,1413.5 L1341.4,1413.8 L1341.9,1414.1 L1342.4,1414.4 L1342.9,1414.6 L1343.4,1414.9 L1343.9,1415.2 L1344.4,1415.5 L1344.9,1415.7 L1345.4,1416.0 L1345.9,1416.3 L1346.4,1416.6 L1346.9,1416.8 L1347.4,1417.1 L1347.9,1417.4 L1348.4,1417.6 L1348.9,1417.9 L1349.4,1418.2 L1349.9,1418.5 L1350.4,1418.7 L1350.9,1419.0 L1351.4,1419.3 L1351.9,1419.5 L1352.4,1419.8 L1352.9,1420.1 L1353.4,1420.3 L1353.9,1420.6 L1354.4,1420.9 L1354.9,1421.1 L1355.4,1421.4 L1355.9,1421.7 L1356.4,1422.0 L1356.9,1422.2 L1357.4,1422.5 L1357.9,1422.8 L1358.4,1423.0 L1358.9,1423.3 L1359.4,1423.6 L1359.9,1423.8 L1360.4,1424.1 L1360.9,1424.3 L1361.4,1424.6 L1361.9,1424.9 L1362.4,1425.1 L1362.9,1425.4 L1363.4,1425.7 L1363.9,1425.9 L1364.4,1426.2 L1364.9,1426.5 L1365.4,1426.7 L1365.9,1427.0 L1366.4,1427.2 L1366.9,1427.5 L1367.4,1427.8 L1367.9,1428.0 L1368.4,1428.3 L1368.9,1428.6 L1369.4,1428.8 L1369.9,1429.1 L1370.4,1429.3 L1370.9,1429.6 L1371.4,1429.9 L1371.9,1430.1 L1372.4,1430.4 L1372.9,1430.6 L1373.4,1430.9 L1373.9,1431.2 L1374.4,1431.4 L1374.9,1431.7 L1375.4,1431.9 L1375.9,1432.2 L1376.4,1432.4 L1376.9,1432.7 L1377.4,1433.0 L1377.9,1433.2 L1378.4,1433.5 L1378.9,1433.7 L1379.4,1434.0 L1379.9,1434.2 L1380.4,1434.5 L1380.9,1434.8 L1381.4,1435.0 L1381.9,1435.3 L1382.4,1435.5 L1382.9,1435.8 L1383.4,1436.0 L1383.9,1436.3 L1384.4,1436.5 L1384.9,1436.8 L1385.4,1437.0 L1385.9,1437.3 L1386.4,1437.6 L1386.9,1437.8 L1387.4,1438.1 L1387.9,1438.3 L1388.4,1438.6 L1388.9,1438.8 L1389.4,1439.1 L1389.9,1439.3 L1390.4,1439.6 L1390.9,1439.8 L1391.4,1440.1 L1391.9,1440.3 L1392.4,1440.6 L1392.9,1440.8 L1393.4,1441.1 L1393.9,1441.3 L1394.4,1441.6 L1394.9,1441.8 L1395.4,1442.1 L1395.9,1442.3 L1396.4,1442.6 L1396.9,1442.8 L1397.4,1443.1 L1397.9,1443.3 L1398.4,1443.6 L1398.9,1443.8 L1399.4,1444.1 L1399.9,1444.3 L1400.4,1444.6 L1400.9,1444.8 L1401.4,1445.0 L1401.9,1445.3 L1402.4,1445.5 L1402.9,1445.8 L1403.4,1446.0 L1403.9,1446.3 L1404.4,1446.5 L1404.9,1446.8 L1405.4,1447.0 L1405.9,1447.3 L1406.4,1447.5 L1406.9,1447.7 L1407.4,1448.0 L1407.9,1448.2 L1408.4,1448.5 L1408.9,1448.7 L1409.4,1449.0 L1409.9,1449.2 L1410.4,1449.5 L1410.9,1449.7 L1411.4,1449.9 L1411.9,1450.2 L1412.4,1450.4 L1412.9,1450.7 L1413.4,1450.9 L1413.9,1451.2 L1414.4,1451.4 L1414.9,1451.6 L1415.4,1451.9 L1415.9,1452.1 L1416.4,1452.4 L1416.9,1452.6 L1417.4,1452.8 L1417.9,1453.1 L1418.4,1453.3 L1418.9,1453.6 L1419.4,1453.8 L1419.9,1454.0 L1420.4,1454.3 L1420.9,1454.5 L1421.4,1454.8 L1421.9,1455.0 L1422.4,1455.2 L1422.9,1455.5 L1423.4,1455.7 L1423.9,1455.9 L1424.4,1456.2 L1424.9,1456.4 L1425.4,1456.7 L1425.9,1456.9 L1426.4,1457.1 L1426.9,1457.4 L1427.4,1457.6 L1427.9,1457.8 L1428.4,1458.1 L1428.9,1458.3 L1429.4,1458.5 L1429.9,1458.8 L1430.4,1459.0 L1430.9,1459.3 L1431.4,1459.5 L1431.9,1459.7 L1432.4,1460.0 L1432.9,1460.2 L1433.4,1460.4 L1433.9,1460.7 L1434.4,1460.9 L1434.9,1461.1 L1435.4,1461.4 L1435.9,1461.6 L1436.4,1461.8 L1436.9,1462.1 L1437.4,1462.3 L1437.9,1462.5 L1438.4,1462.8 L1438.9,1463.0 L1439.4,1463.2 L1439.9,1463.5 L1440.4,1463.7 L1440.9,1463.9 L1441.4,1464.1 L1441.9,1464.4 L1442.4,1464.6 L1442.9,1464.8 L1443.4,1465.1 L1443.9,1465.3 L1444.4,1465.5 L1444.9,1465.8 L1445.4,1466.0 L1445.9,1466.2 L1446.4,1466.5 L1446.9,1466.7 L1447.4,1466.9 L1447.9,1467.1 L1448.4,1467.4 L1448.9,1467.6 L1449.4,1467.8 L1449.9,1468.1 L1450.4,1468.3 L1450.9,1468.5 L1451.4,1468.7 L1451.9,1469.0 L1452.4,1469.2 L1452.9,1469.4 L1453.4,1469.6 L1453.9,1469.9 L1454.4,1470.1 L1454.9,1470.3 L1455.4,1470.6 L1455.9,1470.8 L1456.4,1471.0 L1456.9,1471.2 L1457.4,1471.5 L1457.9,1471.7 L1458.4,1471.9 L1458.9,1472.1 L1459.4,1472.4 L1459.9,1472.6 L1460.4,1472.8 L1460.9,1473.0 L1461.4,1473.3 L1461.9,1473.5 L1462.4,1473.7 L1462.9,1473.9 L1463.4,1474.2 L1463.9,1474.4 L1464.4,1474.6 L1464.9,1474.8 L1465.4,1475.0 L1465.9,1475.3 L1466.4,1475.5 L1466.9,1475.7 L1467.4,1475.9 L1467.9,1476.2 L1468.4,1476.4 L1468.9,1476.6 L1469.4,1476.8 L1469.9,1477.0 L1470.4,1477.3 L1470.9,1477.5 L1471.4,1477.7 L1471.9,1477.9 L1472.4,1478.1 L1472.9,1478.4 L1473.4,1478.6 L1473.9,1478.8 L1474.4,1479.0 L1474.9,1479.3 L1475.4,1479.5 L1475.9,1479.7 L1476.4,1479.9 L1476.9,1480.1 L1477.4,1480.3 L1477.9,1480.6 L1478.4,1480.8 L1478.9,1481.0 L1479.4,1481.2 L1479.9,1481.4 L1480.4,1481.7 L1480.9,1481.9 L1481.4,1482.1 L1481.9,1482.3 L1482.4,1482.5 L1482.9,1482.7 L1483.4,1483.0 L1483.9,1483.2 L1484.4,1483.4 L1484.9,1483.6 L1485.4,1483.8 L1485.9,1484.0 L1486.4,1484.3 L1486.9,1484.5 L1487.4,1484.7 L1487.9,1484.9 L1488.4,1485.1 L1488.9,1485.3 L1489.4,1485.6 L1489.9,1485.8 L1490.4,1486.0 L1490.9,1486.2 L1491.4,1486.4 L1491.9,1486.6 L1492.4,1486.8 L1492.9,1487.1 L1493.4,1487.3 L1493.9,1487.5 L1494.4,1487.7 L1494.9,1487.9 L1495.4,1488.1 L1495.9,1488.3 L1496.4,1488.6 L1496.9,1488.8 L1497.4,1489.0 L1497.9,1489.2 L1498.4,1489.4 L1498.9,1489.6 L1499.4,1489.8 L1499.9,1490.0 L1500.4,1490.3 L1500.9,1490.5 L1501.4,1490.7 L1501.9,1490.9 L1502.4,1491.1 L1502.9,1491.3 L1503.4,1491.5 L1503.9,1491.7 L1504.4,1491.9 L1504.9,1492.2 L1505.4,1492.4 L1505.9,1492.6 L1506.4,1492.8 L1506.9,1493.0 L1507.4,1493.2 L1507.9,1493.4 L1508.4,1493.6 L1508.9,1493.8 L1509.4,1494.0 L1509.9,1494.3 L1510.4,1494.5 L1510.9,1494.7 L1511.4,1494.9 L1511.9,1495.1 L1512.4,1495.3 L1512.9,1495.5 L1513.4,1495.7 L1513.9,1495.9 L1514.4,1496.1 L1514.9,1496.3 L1515.4,1496.5 L1515.9,1496.8 L1516.4,1497.0 L1516.9,1497.2 L1517.4,1497.4 L1517.9,1497.6 L1518.4,1497.8 L1518.9,1498.0 L1519.4,1498.2 L1519.9,1498.4 L1520.4,1498.6 L1520.9,1498.8 L1521.4,1499.0 L1521.9,1499.2 L1522.4,1499.4 L1522.9,1499.6 L1523.4,1499.9 L1523.9,1500.1 L1524.4,1500.3 L1524.9,1500.5 L1525.4,1500.7 L1525.9,1500.9 L1526.4,1501.1 L1526.9,1501.3 L1527.4,1501.5 L1527.9,1501.7 L1528.4,1501.9 L1528.9,1502.1 L1529.4,1502.3 L1529.9,1502.5 L1530.4,1502.7 L1530.9,1502.9 L1531.4,1503.1 L1531.9,1503.3 L1532.4,1503.5 L1532.9,1503.7 L1533.4,1503.9 L1533.9,1504.1 L1534.4,1504.3 L1534.9,1504.5 L1535.4,1504.7 L1535.9,1504.9 L1536.4,1505.1 L1536.9,1505.3 L1537.4,1505.5 L1537.9,1505.7 L1538.4,1505.9 L1538.9,1506.1 L1539.4,1506.4 L1539.9,1506.6 L1540.4,1506.8 L1540.9,1507.0 L1541.4,1507.2 L1541.9,1507.4 L1542.4,1507.6 L1542.9,1507.8 L1543.4,1508.0 L1543.9,1508.2 L1544.4,1508.4 L1544.9,1508.6 L1545.4,1508.8 L1545.9,1509.0 L1546.4,1509.2 L1546.9,1509.3 L1547.4,1509.5 L1547.9,1509.7 L1548.4,1509.9 L1548.9,1510.1 L1549.4,1510.3 L1549.9,1510.5 L1550.4,1510.7 L1550.9,1510.9 L1551.4,1511.1 L1551.9,1511.3 L1552.4,1511.5 L1552.9,1511.7 L1553.4,1511.9 L1553.9,1512.1 L1554.4,1512.3 L1554.9,1512.5 L1555.4,1512.7 L1555.9,1512.9 L1556.4,1513.1 L1556.9,1513.3 L1557.4,1513.5 L1557.9,1513.7 L1558.4,1513.9 L1558.9,1514.1 L1559.4,1514.3 L1559.9,1514.5 L1560.4,1514.7 L1560.9,1514.9 L1561.4,1515.1 L1561.9,1515.3 L1562.4,1515.5 L1562.9,1515.7 L1563.4,1515.8 L1563.9,1516.0 L1564.4,1516.2 L1564.9,1516.4 L1565.4,1516.6 L1565.9,1516.8 L1566.4,1517.0 L1566.9,1517.2 L1567.4,1517.4 L1567.9,1517.6 L1568.4,1517.8 L1568.9,1518.0 L1569.4,1518.2 L1569.9,1518.4 L1570.4,1518.6 L1570.9,1518.8 L1571.4,1518.9 L1571.9,1519.1 L1572.4,1519.3 L1572.9,1519.5 L1573.4,1519.7 L1573.9,1519.9 L1574.4,1520.1 L1574.9,1520.3 L1575.4,1520.5 L1575.9,1520.7 L1576.4,1520.9 L1576.9,1521.1 L1577.4,1521.3 L1577.9,1521.4 L1578.4,1521.6 L1578.9,1521.8 L1579.4,1522.0 L1579.9,1522.2 L1580.4,1522.4 L1580.9,1522.6 L1581.4,1522.8 L1581.9,1523.0 L1582.4,1523.2 L1582.9,1523.4 L1583.4,1523.5 L1583.9,1523.7 L1584.4,1523.9 L1584.9,1524.1 L1585.4,1524.3 L1585.9,1524.5 L1586.4,1524.7 L1586.9,1524.9 L1587.4,1525.1 L1587.9,1525.2 L1588.4,1525.4 L1588.9,1525.6 L1589.4,1525.8 L1589.9,1526.0 L1590.4,1526.2 L1590.9,1526.4 L1591.4,1526.6 L1591.9,1526.8 L1592.4,1526.9 L1592.9,1527.1 L1593.4,1527.3 L1593.9,1527.5 L1594.4,1527.7 L1594.9,1527.9 L1595.4,1528.1 L1595.9,1528.3 L1596.4,1528.4 L1596.9,1528.6 L1597.4,1528.8 L1597.9,1529.0 L1598.4,1529.2 L1598.9,1529.4 L1599.4,1529.6 L1599.9,1529.8 L1600.4,1529.9 L1600.9,1530.1 L1601.4,1530.3 L1601.9,1530.5 L1602.4,1530.7 L1602.9,1530.9 L1603.4,1531.1 L1603.9,1531.2 L1604.4,1531.4 L1604.9,1531.6 L1605.4,1531.8 L1605.9,1532.0 L1606.4,1532.2 L1606.9,1532.3 L1607.4,1532.5 L1607.9,1532.7 L1608.4,1532.9 L1608.9,1533.1 L1609.4,1533.3 L1609.9,1533.5 L1610.4,1533.6 L1610.9,1533.8 L1611.4,1534.0 L1611.9,1534.2 L1612.4,1534.4 L1612.9,1534.6 L1613.4,1534.7 L1613.9,1534.9 L1614.4,1535.1 L1614.9,1535.3 L1615.4,1535.5 L1615.9,1535.7 L1616.4,1535.8 L1616.9,1536.0 L1617.4,1536.2 L1617.9,1536.4 L1618.4,1536.6 L1618.9,1536.7 L1619.4,1536.9 L1619.9,1537.1 L1620.4,1537.3 L1620.9,1537.5 L1621.4,1537.7 L1621.9,1537.8 L1622.4,1538.0 L1622.9,1538.2 L1623.4,1538.4 L1623.9,1538.6 L1624.4,1538.7 L1624.9,1538.9 L1625.4,1539.1 L1625.9,1539.3 L1626.4,1539.5 L1626.9,1539.6 L1627.4,1539.8 L1627.9,1540.0 L1628.4,1540.2 L1628.9,1540.4 L1629.4,1540.5 L1629.9,1540.7 L1630.4,1540.9 L1630.9,1541.1 L1631.4,1541.3 L1631.9,1541.4 L1632.4,1541.6 L1632.9,1541.8 L1633.4,1542.0 L1633.9,1542.2 L1634.4,1542.3 L1634.9,1542.5 L1635.4,1542.7 L1635.9,1542.9 L1636.4,1543.1 L1636.9,1543.2 L1637.4,1543.4 L1637.9,1543.6 L1638.4,1543.8 L1638.9,1543.9 L1639.4,1544.1 L1639.9,1544.3 L1640.4,1544.5 L1640.9,1544.7 L1641.4,1544.8 L1641.9,1545.0 L1642.4,1545.2 L1642.9,1545.4 L1643.4,1545.5 L1643.9,1545.7 L1644.4,1545.9 L1644.9,1546.1 L1645.4,1546.3 L1645.9,1546.4 L1646.4,1546.6 L1646.9,1546.8 L1647.4,1547.0 L1647.9,1547.1 L1648.4,1547.3 L1648.9,1547.5 L1649.4,1547.7 L1649.9,1547.8 L1650.4,1548.0 L1650.9,1548.2 L1651.4,1548.4 L1651.9,1548.5 L1652.4,1548.7 L1652.9,1548.9 L1653.4,1549.1 L1653.9,1549.2 L1654.4,1549.4 L1654.9,1549.6 L1655.4,1549.8 L1655.9,1549.9 L1656.4,1550.1 L1656.9,1550.3 L1657.4,1550.5 L1657.9,1550.6 L1658.4,1550.8 L1658.9,1551.0 L1659.4,1551.2 L1659.9,1551.3 L1660.4,1551.5 L1660.9,1551.7 L1661.4,1551.9 L1661.9,1552.0 L1662.4,1552.2 L1662.9,1552.4 L1663.4,1552.5 L1663.9,1552.7 L1664.4,1552.9 L1664.9,1553.1 L1665.4,1553.2 L1665.9,1553.4 L1666.4,1553.6 L1666.9,1553.8 L1667.4,1553.9 L1667.9,1554.1 L1668.4,1554.3 L1668.9,1554.4 L1669.4,1554.6 L1669.9,1554.8 L1670.4,1555.0 L1670.9,1555.1 L1671.4,1555.3 L1671.9,1555.5 L1672.4,1555.6 L1672.9,1555.8 L1673.4,1556.0 L1673.9,1556.2 L1674.4,1556.3 L1674.9,1556.5 L1675.4,1556.7 L1675.9,1556.8 L1676.4,1557.0 L1676.9,1557.2 L1677.4,1557.4 L1677.9,1557.5 L1678.4,1557.7 L1678.9,1557.9 L1679.4,1558.0 L1679.9,1558.2 L1680.4,1558.4 L1680.9,1558.5 L1681.4,1558.7 L1681.9,1558.9 L1682.4,1559.1 L1682.9,1559.2 L1683.4,1559.4 L1683.9,1559.6 L1684.4,1559.7 L1684.9,1559.9 L1685.4,1560.1 L1685.9,1560.2 L1686.4,1560.4 L1686.9,1560.6 L1687.4,1560.7 L1687.9,1560.9 L1688.4,1561.1 L1688.9,1561.3 L1689.4,1561.4 L1689.9,1561.6 L1690.4,1561.8 L1690.9,1561.9 L1691.4,1562.1 L1691.9,1562.3 L1692.4,1562.4 L1692.9,1562.6 L1693.4,1562.8 L1693.9,1562.9 L1694.4,1563.1 L1694.9,1563.3 L1695.4,1563.4 L1695.9,1563.6 L1696.4,1563.8 L1696.9,1563.9 L1697.4,1564.1 L1697.9,1564.3 L1698.4,1564.4 L1698.9,1564.6 L1699.4,1564.8 L1699.9,1564.9 L1700.4,1565.1 L1700.9,1565.3 L1701.4,1565.4 L1701.9,1565.6 L1702.4,1565.8 L1702.9,1565.9 L1703.4,1566.1 L1703.9,1566.3 L1704.4,1566.4 L1704.9,1566.6 L1705.4,1566.8 L1705.9,1566.9 L1706.4,1567.1 L1706.9,1567.3 L1707.4,1567.4 L1707.9,1567.6 L1708.4,1567.8 L1708.9,1567.9 L1709.4,1568.1 L1709.9,1568.2 L1710.4,1568.4 L1710.9,1568.6 L1711.4,1568.7 L1711.9,1568.9 L1712.4,1569.1 L1712.9,1569.2 L1713.4,1569.4 L1713.9,1569.6 L1714.4,1569.7 L1714.9,1569.9 L1715.4,1570.1 L1715.9,1570.2 L1716.4,1570.4 L1716.9,1570.5 L1717.4,1570.7 L1717.9,1570.9 L1718.4,1571.0 L1718.9,1571.2 L1719.4,1571.4 L1719.9,1571.5 L1720.4,1571.7 L1720.9,1571.9 L1721.4,1572.0 L1721.9,1572.2 L1722.4,1572.3 L1722.9,1572.5 L1723.4,1572.7 L1723.9,1572.8 L1724.4,1573.0 L1724.9,1573.2 L1725.4,1573.3 L1725.9,1573.5 L1726.4,1573.6 L1726.9,1573.8 L1727.4,1574.0 L1727.9,1574.1 L1728.4,1574.3 L1728.9,1574.4 L1729.4,1574.6 L1729.9,1574.8 L1730.4,1574.9 L1730.9,1575.1 L1731.4,1575.3 L1731.9,1575.4 L1732.4,1575.6 L1732.9,1575.7 L1733.4,1575.9 L1733.9,1576.1 L1734.4,1576.2 L1734.9,1576.4 L1735.4,1576.5 L1735.9,1576.7 L1736.4,1576.9 L1736.9,1577.0 L1737.4,1577.2 L1737.9,1577.3 L1738.4,1577.5 L1738.9,1577.7 L1739.4,1577.8 L1739.9,1578.0 L1740.4,1578.1 L1740.9,1578.3 L1741.4,1578.5 L1741.9,1578.6 L1742.4,1578.8 L1742.9,1578.9 L1743.4,1579.1 L1743.9,1579.3 L1744.4,1579.4 L1744.9,1579.6 L1745.4,1579.7 L1745.9,1579.9 L1746.4,1580.0 L1746.9,1580.2 L1747.4,1580.4 L1747.9,1580.5 L1748.4,1580.7 L1748.9,1580.8 L1749.4,1581.0 L1749.9,1581.2 L1750.4,1581.3 L1750.9,1581.5 L1751.4,1581.6 L1751.9,1581.8 L1752.4,1581.9 L1752.9,1582.1 L1753.4,1582.3 L1753.9,1582.4 L1754.4,1582.6 L1754.9,1582.7 L1755.4,1582.9 L1755.9,1583.1 L1756.4,1583.2 L1756.9,1583.4 L1757.4,1583.5 L1757.9,1583.7 L1758.4,1583.8 L1758.9,1584.0 L1759.4,1584.1 L1759.9,1584.3 L1760.4,1584.5 L1760.9,1584.6 L1761.4,1584.8 L1761.9,1584.9 L1762.4,1585.1 L1762.9,1585.2 L1763.4,1585.4 L1763.9,1585.6 L1764.4,1585.7 L1764.9,1585.9 L1765.4,1586.0 L1765.9,1586.2 L1766.4,1586.3 L1766.9,1586.5 L1767.4,1586.6 L1767.9,1586.8 L1768.4,1587.0 L1768.9,1587.1 L1769.4,1587.3 L1769.9,1587.4 L1770.4,1587.6 L1770.9,1587.7 L1771.4,1587.9 L1771.9,1588.0 L1772.4,1588.2 L1772.9,1588.4 L1773.4,1588.5 L1773.9,1588.7 L1774.3,1588.8 L1774.8,1589.0 L1775.3,1589.1 L1775.8,1589.3 L1776.3,1589.4 L1776.8,1589.6 L1777.3,1589.7 L1777.8,1589.9 L1778.3,1590.0 L1778.8,1590.2 L1779.3,1590.4 L1779.8,1590.5 L1780.3,1590.7 L1780.8,1590.8 L1781.3,1591.0 L1781.8,1591.1 L1782.3,1591.3 L1782.8,1591.4 L1783.3,1591.6 L1783.8,1591.7 L1784.3,1591.9 L1784.8,1592.0 L1785.3,1592.2 L1785.8,1592.3 L1786.3,1592.5 L1786.8,1592.7 L1787.3,1592.8 L1787.8,1593.0 L1788.3,1593.1 L1788.8,1593.3 L1789.3,1593.4 L1789.8,1593.6 L1790.3,1593.7 L1790.8,1593.9 L1791.3,1594.0 L1791.8,1594.2 L1792.3,1594.3 L1792.8,1594.5 L1793.3,1594.6 L1793.8,1594.8 L1794.3,1594.9 L1794.8,1595.1 L1795.3,1595.2 L1795.8,1595.4 L1796.3,1595.5 L1796.8,1595.7 L1797.3,1595.8 L1797.8,1596.0 L1798.3,1596.1 L1798.8,1596.3 L1799.3,1596.4 L1799.8,1596.6 L1800.3,1596.7 L1800.8,1596.9 L1801.3,1597.0 L1801.8,1597.2 L1802.3,1597.3 L1802.8,1597.5 L1803.3,1597.6 L1803.8,1597.8 L1804.3,1597.9 L1804.8,1598.1 L1805.3,1598.2 L1805.8,1598.4 L1806.3,1598.5 L1806.8,1598.7 L1807.3,1598.8 L1807.8,1599.0 L1808.3,1599.1 L1808.8,1599.3 L1809.3,1599.4 L1809.8,1599.6 L1810.3,1599.7 L1810.8,1599.9 L1811.3,1600.0 L1811.8,1600.2 L1812.3,1600.3 L1812.8,1600.5 L1813.3,1600.6 L1813.8,1600.8 L1814.3,1600.9 L1814.8,1601.1 L1815.3,1601.2 L1815.8,1601.4 L1816.3,1601.5 L1816.8,1601.7 L1817.3,1601.8 L1817.8,1602.0 L1818.3,1602.1 L1818.8,1602.3 L1819.3,1602.4 L1819.8,1602.6 L1820.3,1602.7 L1820.8,1602.9 L1821.3,1603.0 L1821.8,1603.2 L1822.3,1603.3 L1822.8,1603.5 L1823.3,1603.6 L1823.8,1603.8 L1824.3,1603.9 L1824.8,1604.0 L1825.3,1604.2 L1825.8,1604.3 L1826.3,1604.5 L1826.8,1604.6 L1827.3,1604.8 L1827.8,1604.9 L1828.3,1605.1 L1828.8,1605.2 L1829.3,1605.4 L1829.8,1605.5 L1830.3,1605.7 L1830.8,1605.8 L1831.3,1606.0 L1831.8,1606.1 L1832.3,1606.2 L1832.8,1606.4 L1833.3,1606.5 L1833.8,1606.7 L1834.3,1606.8 L1834.8,1607.0 L1835.3,1607.1 L1835.8,1607.3 L1836.3,1607.4 L1836.8,1607.6 L1837.3,1607.7 L1837.8,1607.9 L1838.3,1608.0 L1838.8,1608.1 L1839.3,1608.3 L1839.8,1608.4 L1840.3,1608.6 L1840.8,1608.7 L1841.3,1608.9 L1841.8,1609.0 L1842.3,1609.2 L1842.8,1609.3 L1843.3,1609.4 L1843.8,1609.6 L1844.3,1609.7 L1844.8,1609.9 L1845.3,1610.0 L1845.8,1610.2 L1846.3,1610.3 L1846.8,1610.5 L1847.3,1610.6 L1847.8,1610.7 L1848.3,1610.9 L1848.8,1611.0 L1849.3,1611.2 L1849.8,1611.3 L1850.3,1611.5 L1850.8,1611.6 L1851.3,1611.8 L1851.8,1611.9 L1852.3,1612.0 L1852.8,1612.2 L1853.3,1612.3 L1853.8,1612.5 L1854.3,1612.6 L1854.8,1612.8 L1855.3,1612.9 L1855.8,1613.0 L1856.3,1613.2 L1856.8,1613.3 L1857.3,1613.5 L1857.8,1613.6 L1858.3,1613.8 L1858.8,1613.9 L1859.3,1614.1 L1859.8,1614.2 L1860.3,1614.3 L1860.8,1614.5 L1861.3,1614.6 L1861.8,1614.8 L1862.3,1614.9 L1862.8,1615.0 L1863.3,1615.2 L1863.8,1615.3 L1864.3,1615.5 L1864.8,1615.6 L1865.3,1615.8 L1865.8,1615.9 L1866.3,1616.0 L1866.8,1616.2 L1867.3,1616.3 L1867.8,1616.5 L1868.3,1616.6 L1868.8,1616.8 L1869.3,1616.9 L1869.8,1617.0 L1870.3,1617.2 L1870.8,1617.3 L1871.3,1617.5 L1871.8,1617.6 L1872.3,1617.7 L1872.8,1617.9 L1873.3,1618.0 L1873.8,1618.2 L1874.3,1618.3 L1874.8,1618.4 L1875.3,1618.6 L1875.8,1618.7 L1876.3,1618.9 L1876.8,1619.0 L1877.3,1619.2 L1877.8,1619.3 L1878.3,1619.4 L1878.8,1619.6 L1879.3,1619.7 L1879.8,1619.9 L1880.3,1620.0 L1880.8,1620.1 L1881.3,1620.3 L1881.8,1620.4 L1882.3,1620.6 L1882.8,1620.7 L1883.3,1620.8 L1883.8,1621.0 L1884.3,1621.1 L1884.8,1621.3 L1885.3,1621.4 L1885.8,1621.5 L1886.3,1621.7 L1886.8,1621.8 L1887.3,1622.0 L1887.8,1622.1 L1888.3,1622.2 L1888.8,1622.4 L1889.3,1622.5 L1889.8,1622.6 L1890.3,1622.8 L1890.8,1622.9 L1891.3,1623.1 L1891.8,1623.2 L1892.3,1623.3 L1892.8,1623.5 L1893.3,1623.6 L1893.8,1623.8 L1894.3,1623.9 L1894.8,1624.0 L1895.3,1624.2 L1895.8,1624.3 L1896.3,1624.4 L1896.8,1624.6 L1897.3,1624.7 L1897.8,1624.9 L1898.3,1625.0 L1898.8,1625.1 L1899.3,1625.3 L1899.8,1625.4 L1900.3,1625.6 L1900.8,1625.7 L1901.3,1625.8 L1901.8,1626.0 L1902.3,1626.1 L1902.8,1626.2 L1903.3,1626.4 L1903.8,1626.5 L1904.3,1626.7 L1904.8,1626.8 L1905.3,1626.9 L1905.8,1627.1 L1906.3,1627.2 L1906.8,1627.3 L1907.3,1627.5 L1907.8,1627.6 L1908.3,1627.8 L1908.8,1627.9 L1909.3,1628.0 L1909.8,1628.2 L1910.3,1628.3 L1910.8,1628.4 L1911.3,1628.6 L1911.8,1628.7 L1912.3,1628.8 L1912.8,1629.0 L1913.3,1629.1 L1913.8,1629.3 L1914.3,1629.4 L1914.8,1629.5 L1915.3,1629.7 L1915.8,1629.8 L1916.3,1629.9 L1916.8,1630.1 L1917.3,1630.2 L1917.8,1630.3 L1918.3,1630.5 L1918.8,1630.6 L1919.3,1630.8 L1919.8,1630.9 L1920.3,1631.0 L1920.8,1631.2 L1921.3,1631.3 L1921.8,1631.4 L1922.3,1631.6 L1922.8,1631.7 L1923.3,1631.8 L1923.8,1632.0 L1924.3,1632.1 L1924.8,1632.2 L1925.3,1632.4 L1925.8,1632.5 L1926.3,1632.6 L1926.8,1632.8 L1927.3,1632.9 L1927.8,1633.0 L1928.3,1633.2 L1928.8,1633.3 L1929.3,1633.5 L1929.8,1633.6 L1930.3,1633.7 L1930.8,1633.9 L1931.3,1634.0 L1931.8,1634.1 L1932.3,1634.3 L1932.8,1634.4 L1933.3,1634.5 L1933.8,1634.7 L1934.3,1634.8 L1934.8,1634.9 L1935.3,1635.1 L1935.8,1635.2 L1936.3,1635.3 L1936.8,1635.5 L1937.3,1635.6 L1937.8,1635.7 L1938.3,1635.9 L1938.8,1636.0 L1939.3,1636.1 L1939.8,1636.3 L1940.3,1636.4 L1940.8,1636.5 L1941.3,1636.7 L1941.8,1636.8 L1942.3,1636.9 L1942.8,1637.1 L1943.3,1637.2 L1943.8,1637.3 L1944.3,1637.5 L1944.8,1637.6 L1945.3,1637.7 L1945.8,1637.9 L1946.3,1638.0 L1946.8,1638.1 L1947.3,1638.3 L1947.8,1638.4 L1948.3,1638.5 L1948.8,1638.7 L1949.3,1638.8 L1949.8,1638.9 L1950.3,1639.1 L1950.8,1639.2 L1951.3,1639.3 L1951.8,1639.5 L1952.3,1639.6 L1952.8,1639.7 L1953.3,1639.8 L1953.8,1640.0 L1954.3,1640.1 L1954.8,1640.2 L1955.3,1640.4 L1955.8,1640.5 L1956.3,1640.6 L1956.8,1640.8 L1957.3,1640.9 L1957.8,1641.0 L1958.3,1641.2 L1958.8,1641.3 L1959.3,1641.4 L1959.8,1641.6 L1960.3,1641.7 L1960.8,1641.8 L1961.3,1642.0 L1961.8,1642.1 L1962.3,1642.2 L1962.8,1642.3 L1963.3,1642.5 L1963.8,1642.6 L1964.3,1642.7 L1964.8,1642.9 L1965.3,1643.0 L1965.8,1643.1 L1966.3,1643.3 L1966.8,1643.4 L1967.3,1643.5 L1967.8,1643.7 L1968.3,1643.8 L1968.8,1643.9 L1969.3,1644.0 L1969.8,1644.2 L1970.3,1644.3 L1970.8,1644.4 L1971.3,1644.6 L1971.8,1644.7 L1972.3,1644.8 L1972.8,1645.0 L1973.3,1645.1 L1973.8,1645.2 L1974.3,1645.3 L1974.8,1645.5 L1975.3,1645.6 L1975.8,1645.7 L1976.3,1645.9 L1976.8,1646.0 L1977.3,1646.1 L1977.8,1646.3 L1978.3,1646.4 L1978.8,1646.5 L1979.3,1646.6 L1979.8,1646.8 L1980.3,1646.9 L1980.8,1647.0 L1981.3,1647.2 L1981.8,1647.3 L1982.3,1647.4 L1982.8,1647.5 L1983.3,1647.7 L1983.8,1647.8 L1984.3,1647.9 L1984.8,1648.1 L1985.3,1648.2 L1985.8,1648.3 L1986.3,1648.4 L1986.8,1648.6 L1987.3,1648.7 L1987.8,1648.8 L1988.3,1649.0 L1988.8,1649.1 L1989.3,1649.2 L1989.8,1649.3 L1990.3,1649.5 L1990.8,1649.6 L1991.3,1649.7 L1991.8,1649.9 L1992.3,1650.0 L1992.8,1650.1 L1993.3,1650.2 L1993.8,1650.4 L1994.3,1650.5 L1994.8,1650.6 L1995.3,1650.8 L1995.8,1650.9 L1996.3,1651.0 L1996.8,1651.1 L1997.3,1651.3 L1997.8,1651.4 L1998.3,1651.5 L1998.8,1651.6 L1999.3,1651.8 L1999.8,1651.9 L2000.3,1652.0 L2000.8,1652.2 L2001.3,1652.3 L2001.8,1652.4 L2002.3,1652.5 L2002.8,1652.7 L2003.3,1652.8 L2003.8,1652.9 L2004.3,1653.0 L2004.8,1653.2 L2005.3,1653.3 L2005.8,1653.4 L2006.3,1653.5 L2006.8,1653.7 L2007.3,1653.8 L2007.8,1653.9 L2008.3,1654.1 L2008.8,1654.2 L2009.3,1654.3 L2009.8,1654.4 L2010.3,1654.6 L2010.8,1654.7 L2011.3,1654.8 L2011.8,1654.9 L2012.3,1655.1 L2012.8,1655.2 L2013.3,1655.3 L2013.8,1655.4 L2014.3,1655.6 L2014.8,1655.7 L2015.3,1655.8 L2015.8,1655.9 L2016.3,1656.1 L2016.8,1656.2 L2017.3,1656.3 L2017.8,1656.4 L2018.3,1656.6 L2018.8,1656.7 L2019.3,1656.8 L2019.8,1656.9 L2020.3,1657.1 L2020.8,1657.2 L2021.3,1657.3 L2021.8,1657.4 L2022.3,1657.6 L2022.8,1657.7 L2023.3,1657.8 L2023.8,1657.9 L2024.3,1658.1 L2024.8,1658.2 L2025.3,1658.3 L2025.8,1658.4 L2026.3,1658.6 L2026.8,1658.7 L2027.3,1658.8 L2027.8,1658.9 L2028.3,1659.1 L2028.8,1659.2 L2029.3,1659.3 L2029.8,1659.4 L2030.3,1659.6 L2030.8,1659.7 L2031.3,1659.8 L2031.8,1659.9 L2032.3,1660.1 L2032.8,1660.2 L2033.3,1660.3 L2033.8,1660.4 L2034.3,1660.6 L2034.8,1660.7 L2035.3,1660.8 L2035.8,1660.9 L2036.3,1661.1 L2036.8,1661.2 L2037.3,1661.3 L2037.8,1661.4 L2038.3,1661.6 L2038.8,1661.7 L2039.3,1661.8 L2039.8,1661.9 L2040.3,1662.0 L2040.8,1662.2 L2041.3,1662.3 L2041.8,1662.4 L2042.3,1662.5 L2042.8,1662.7 L2043.3,1662.8 L2043.8,1662.9 L2044.3,1663.0 L2044.8,1663.2 L2045.3,1663.3 L2045.8,1663.4 L2046.3,1663.5 L2046.8,1663.6 L2047.3,1663.8 L2047.8,1663.9 L2048.3,1664.0 L2048.8,1664.1 L2049.3,1664.3 L2049.8,1664.4 L2050.3,1664.5 L2050.8,1664.6 L2051.3,1664.7 L2051.8,1664.9 L2052.3,1665.0 L2052.8,1665.1 L2053.3,1665.2 L2053.8,1665.4 L2054.3,1665.5 L2054.8,1665.6 L2055.3,1665.7 L2055.8,1665.8 L2056.3,1666.0 L2056.8,1666.1 L2057.3,1666.2 L2057.8,1666.3 L2058.3,1666.5 L2058.8,1666.6 L2059.3,1666.7 L2059.8,1666.8 L2060.3,1666.9 L2060.8,1667.1 L2061.3,1667.2 L2061.8,1667.3 L2062.3,1667.4 L2062.8,1667.6 L2063.3,1667.7 L2063.8,1667.8 L2064.3,1667.9 L2064.8,1668.0 L2065.3,1668.2 L2065.8,1668.3 L2066.3,1668.4 L2066.8,1668.5 L2067.3,1668.6" fill="none" stroke="#000" stroke-width="5.3" stroke-linejoin="bevel"/>
<path d="M385.1,1310.7 L386.1,1310.7 L387.1,1310.7 L388.1,1310.7 L389.1,1310.7 L390.1,1310.7 L391.1,1310.7 L392.1,1310.6 L393.1,1310.6 L394.1,1310.6 L395.1,1310.6 L396.1,1310.6 L397.1,1310.6 L398.1,1310.6 L399.1,1310.5 L400.1,1310.5 L401.1,1310.5 L402.1,1310.5 L403.1,1310.4 L404.1,1310.4 L405.1,1310.4 L406.1,1310.4 L407.1,1310.3 L408.1,1310.3 L409.1,1310.3 L410.1,1310.2 L411.1,1310.2 L412.1,1310.2 L413.1,1310.1 L414.1,1310.1 L415.1,1310.0 L416.1,1310.0 L417.1,1309.9 L418.1,1309.9 L419.1,1309.8 L420.1,1309.8 L421.1,1309.7 L422.1,1309.7 L423.1,1309.6 L424.1,1309.6 L425.1,1309.5 L426.1,1309.5 L427.1,1309.4 L428.1,1309.3 L429.1,1309.3 L430.1,1309.2 L431.1,1309.1 L432.1,1309.1 L433.1,1309.0 L434.1,1308.9 L435.1,1308.9 L436.1,1308.8 L437.1,1308.7 L438.1,1308.6 L439.1,1308.6 L440.1,1308.5 L441.1,1308.4 L442.1,1308.3 L443.1,1308.2 L444.1,1308.2 L445.1,1308.1 L446.1,1308.0 L447.1,1307.9 L448.1,1307.8 L449.1,1307.7 L450.1,1307.6 L451.1,1307.5 L452.1,1307.4 L453.1,1307.3 L454.1,1307.2 L455.1,1307.1 L456.1,1307.0 L457.1,1306.9 L458.1,1306.8 L459.1,1306.7 L460.1,1306.6 L461.1,1306.5 L462.1,1306.4 L463.1,1306.2 L464.1,1306.1 L465.1,1306.0 L466.1,1305.9 L467.1,1305.8 L468.1,1305.7 L469.1,1305.5 L470.1,1305.4 L471.1,1305.3 L472.1,1305.2 L473.1,1305.0 L474.1,1304.9 L475.1,1304.8 L476.1,1304.6 L477.1,1304.5 L478.1,1304.3 L479.1,1304.2 L480.1,1304.1 L481.1,1303.9 L482.1,1303.8 L483.1,1303.6 L484.1,1303.5 L485.1,1303.3 L486.1,1303.2 L487.1,1303.0 L488.1,1302.9 L489.1,1302.7 L490.1,1302.6 L491.1,1302.4 L492.1,1302.2 L493.1,1302.1 L494.1,1301.9 L495.1,1301.8 L496.1,1301.6 L497.1,1301.4 L498.1,1301.3 L499.1,1301.1 L500.1,1300.9 L501.1,1300.7 L502.1,1300.6 L503.1,1300.4 L504.1,1300.2 L505.1,1300.0 L506.1,1299.8 L507.1,1299.6 L508.1,1299.5 L509.1,1299.3 L510.1,1299.1 L511.1,1298.9 L512.1,1298.7 L513.1,1298.5 L514.1,1298.3 L515.1,1298.1 L516.1,1297.9 L517.1,1297.7 L518.1,1297.5 L519.1,1297.3 L520.1,1297.1 L521.1,1296.9 L522.1,1296.6 L523.1,1296.4 L524.1,1296.2 L525.1,1296.0 L526.1,1295.8 L527.1,1295.6 L528.1,1295.3 L529.1,1295.1 L530.1,1294.9 L531.1,1294.6 L532.1,1294.4 L533.1,1294.2 L534.1,1293.9 L535.1,1293.7 L536.1,1293.5 L537.1,1293.2 L538.0,1293.0 L539.0,1292.7 L540.0,1292.5 L541.0,1292.2 L542.0,1292.0 L543.0,1291.7 L544.0,1291.5 L545.0,1291.2 L546.0,1291.0 L547.0,1290.7 L548.0,1290.5 L549.0,1290.2 L550.0,1289.9 L551.0,1289.7 L552.0,1289.4 L553.0,1289.1 L554.0,1288.8 L555.0,1288.6 L556.0,1288.3 L557.0,1288.0 L558.0,1287.7 L559.0,1287.4 L560.0,1287.1 L561.0,1286.9 L562.0,1286.6 L563.0,1286.3 L564.0,1286.0 L565.0,1285.7 L566.0,1285.4 L567.0,1285.1 L568.0,1284.8 L569.0,1284.5 L570.0,1284.2 L571.0,1283.8 L572.0,1283.5 L573.0,1283.2 L574.0,1282.9 L575.0,1282.6 L576.0,1282.3 L577.0,1281.9 L578.0,1281.6 L579.0,1281.3 L580.0,1280.9 L581.0,1280.6 L582.0,1280.3 L583.0,1279.9 L584.0,1279.6 L585.0,1279.2 L586.0,1278.9 L587.0,1278.5 L588.0,1278.2 L589.0,1277.8 L590.0,1277.5 L591.0,1277.1 L592.0,1276.8 L593.0,1276.4 L594.0,1276.0 L595.0,1275.7 L596.0,1275.3 L597.0,1274.9 L598.0,1274.5 L599.0,1274.2 L600.0,1273.8 L601.0,1273.4 L602.0,1273.0 L603.0,1272.6 L604.0,1272.2 L605.0,1271.8 L606.0,1271.4 L607.0,1271.0 L608.0,1270.6 L609.0,1270.2 L610.0,1269.8 L611.0,1269.4 L612.0,1269.0 L613.0,1268.5 L614.0,1268.1 L615.0,1267.7 L616.0,1267.3 L617.0,1266.8 L618.0,1266.4 L619.0,1265.9 L620.0,1265.5 L621.0,1265.1 L622.0,1264.6 L623.0,1264.2 L624.0,1263.7 L625.0,1263.2 L626.0,1262.8 L627.0,1262.3 L628.0,1261.8 L629.0,1261.4 L630.0,1260.9 L631.0,1260.4 L632.0,1259.9 L633.0,1259.4 L634.0,1258.9 L635.0,1258.5 L636.0,1258.0 L637.0,1257.5 L638.0,1256.9 L639.0,1256.4 L640.0,1255.9 L641.0,1255.4 L642.0,1254.9 L643.0,1254.3 L644.0,1253.8 L645.0,1253.3 L646.0,1252.7 L647.0,1252.2 L648.0,1251.6 L649.0,1251.1 L650.0,1250.5 L651.0,1250.0 L652.0,1249.4 L653.0,1248.8 L654.0,1248.2 L655.0,1247.6 L656.0,1247.0 L657.0,1246.4 L658.0,1245.8 L659.0,1245.2 L660.0,1244.6 L661.0,1244.0 L662.0,1243.4 L663.0,1242.7 L664.0,1242.1 L665.0,1241.4 L666.0,1240.8 L667.0,1240.1 L668.0,1239.4 L669.0,1238.7 L670.0,1238.0 L671.0,1237.3 L672.0,1236.6 L673.0,1235.9 L674.0,1235.1 L675.0,1234.4 L676.0,1233.6 L677.0,1232.8 L678.0,1232.1 L679.0,1231.2 L680.0,1230.4 L681.0,1229.6 L682.0,1228.7 L683.0,1227.8 L684.0,1226.9 L685.0,1225.9 L686.0,1224.9 L687.0,1223.9 L688.0,1222.9 L689.0,1221.8 L690.0,1220.6 L691.2,1209.5 L695.0,1198.0 L698.1,1186.1 L700.2,1160.0 L701.3,1130.6 L702.6,1100.0 L704.0,1074.5 L705.3,1057.5" fill="none" stroke="#0000ff" stroke-width="5.2" stroke-dasharray="25.5 29.9" stroke-dashoffset="0.00" stroke-linejoin="bevel"/>
<path d="M705.3,1057.5 L706.5,1070.5 L707.5,1097.0 L709.0,1126.4 L710.3,1152.0 L711.7,1182.3 L712.7,1207.4 L713.6,1222.0 L716.0,1220.5 L720.0,1218.0 L726.4,1213.0 L734.0,1204.3 L741.8,1194.6 L750.0,1182.0 L750.5,1181.4 L751.0,1180.8 L751.5,1180.2 L752.0,1179.6 L752.5,1179.1 L753.0,1178.5 L753.5,1177.9 L754.0,1177.3 L754.5,1176.7 L755.0,1176.1 L755.5,1175.5 L756.0,1174.9 L756.5,1174.3 L757.0,1173.7 L757.5,1173.1 L758.0,1172.5 L758.5,1171.9 L759.0,1171.3 L759.5,1170.7 L760.0,1170.1 L760.5,1169.5 L761.0,1168.9 L761.5,1168.2 L762.0,1167.6 L762.5,1167.0 L763.0,1166.4 L763.5,1165.7 L764.0,1165.1 L764.5,1164.5 L765.0,1163.8 L765.5,1163.2 L766.0,1162.6 L766.5,1161.9 L767.0,1161.3 L767.5,1160.6 L768.0,1160.0 L768.5,1159.3 L769.0,1158.7 L769.5,1158.0 L770.0,1157.4 L770.5,1156.7 L771.0,1156.0 L771.5,1155.4 L772.0,1154.7 L772.5,1154.0 L773.0,1153.3 L773.5,1152.6 L774.0,1152.0 L774.5,1151.3 L775.0,1150.6 L775.5,1149.9 L776.0,1149.2 L776.5,1148.5 L777.0,1147.8 L777.5,1147.1 L778.0,1146.4 L778.5,1145.7 L779.0,1144.9 L779.5,1144.2 L780.0,1143.5 L780.5,1142.8 L781.0,1142.0 L781.5,1141.3 L782.0,1140.6 L782.5,1139.8 L783.0,1139.1 L783.5,1138.3 L784.0,1137.6 L784.5,1136.8 L785.0,1136.1 L785.5,1135.3 L786.0,1134.5 L786.5,1133.8 L787.0,1133.0 L787.5,1132.2 L788.0,1131.4 L788.5,1130.7 L789.0,1129.9 L789.5,1129.1 L790.0,1128.3 L790.5,1127.5 L791.0,1126.7 L791.5,1125.8 L792.0,1125.0 L792.5,1124.2 L793.0,1123.4 L793.5,1122.5 L794.0,1121.7 L794.5,1120.9 L795.0,1120.0 L795.5,1119.2 L796.0,1118.3 L796.5,1117.5 L797.0,1116.6 L797.5,1115.7 L798.0,1114.9 L798.5,1114.0 L799.0,1113.1 L799.5,1112.2 L800.0,1111.3 L800.5,1110.4 L801.0,1109.5 L801.5,1108.6 L802.0,1107.7 L802.5,1106.8 L803.0,1105.8 L803.5,1104.9 L804.0,1104.0 L804.5,1103.0 L805.0,1102.1 L805.5,1101.1 L806.0,1100.2 L806.5,1099.2 L807.0,1098.2 L807.5,1097.2 L808.0,1096.3 L808.5,1095.3 L809.0,1094.3 L809.5,1093.3 L810.0,1092.2 L810.5,1091.2 L811.0,1090.2 L811.5,1089.2 L812.0,1088.1 L812.5,1087.1 L813.0,1086.0 L813.5,1085.0 L814.0,1083.9 L814.5,1082.8 L815.0,1081.7 L815.5,1080.7 L816.0,1079.6 L816.5,1078.5 L817.0,1077.3 L817.5,1076.2 L818.0,1075.1 L818.5,1074.0 L819.0,1072.8 L819.5,1071.7 L820.0,1070.5 L820.5,1069.3 L821.0,1068.1 L821.5,1066.9 L822.0,1065.7 L822.5,1064.5 L823.0,1063.3 L823.5,1062.1 L824.0,1060.9 L824.5,1059.6 L825.0,1058.4 L825.5,1057.1 L826.0,1055.8 L826.5,1054.5 L827.0,1053.2 L827.5,1051.9 L828.0,1050.6 L828.5,1049.3 L829.0,1047.9 L829.5,1046.6 L830.0,1045.2 L830.5,1043.9 L831.0,1042.5 L831.5,1041.1 L832.0,1039.7 L832.5,1038.2 L833.0,1036.8 L833.5,1035.4 L834.0,1033.9 L834.5,1032.4 L835.0,1030.9 L835.5,1029.4 L836.0,1027.9 L836.5,1026.4 L837.0,1024.8 L837.5,1023.3 L838.0,1021.7 L838.5,1020.1 L839.0,1018.5 L839.5,1016.9 L840.0,1015.3 L840.5,1013.6 L841.0,1011.9 L841.5,1010.2 L842.0,1008.5 L842.5,1006.8 L843.0,1005.1 L843.5,1003.3 L844.0,1001.5 L844.5,999.7 L845.0,997.9 L845.5,996.1 L846.0,994.2 L846.5,992.3 L847.0,990.4 L847.5,988.5 L848.0,986.6 L848.5,984.6 L849.0,982.6 L849.5,980.6 L850.0,978.6 L850.5,976.5 L851.0,974.4 L851.5,972.3 L852.0,970.1 L852.5,968.0 L853.0,965.8 L853.5,963.5 L854.0,961.3 L854.5,959.0 L855.0,956.7 L855.5,954.3 L856.0,951.9 L856.5,949.5 L857.0,947.0 L857.5,944.5 L858.0,942.0 L858.5,939.5 L859.0,936.8 L859.5,934.2 L860.0,931.5 L860.5,928.8 L861.0,926.0 L861.5,923.2 L862.0,920.3 L862.5,917.4 L863.0,914.4 L863.5,911.4 L864.0,908.3 L864.5,905.2 L865.0,902.0 L865.5,898.8 L866.0,895.5 L866.5,892.1 L867.0,888.7 L867.5,885.1 L868.0,881.6 L868.5,877.9 L869.0,874.2 L869.5,870.4 L870.0,866.5 L870.5,862.5 L871.0,858.4 L871.5,854.2 L872.0,849.9 L872.5,845.5 L873.0,841.0 L873.5,836.4 L874.0,831.7 L874.5,826.8 L875.0,821.8 L875.5,816.6 L876.0,811.3 L876.5,805.8 L877.0,800.1 L877.5,794.3 L878.0,788.2 L878.5,782.0 L879.0,775.5 L879.5,768.8 L880.0,761.8 L880.5,754.5 L881.0,746.9 L881.5,739.0 L882.0,730.7 L882.5,722.0 L883.0,712.9 L883.5,703.2 L884.0,693.1 L884.5,682.3 L885.0,670.8 L885.5,658.5 L886.0,645.4 L886.5,631.2 L887.0,615.8 L887.5,599.0 L888.0,580.5 L888.5,559.8 L889.0,536.5 L889.5,509.7 L890.0,478.3 L890.5,440.4 L893.6,344.5" fill="none" stroke="#0000ff" stroke-width="5.2" stroke-dasharray="25.6 30.5" stroke-dashoffset="43.04" stroke-linejoin="bevel"/>
<path d="M893.6,344.5 L896.0,520.8 L896.5,546.4 L897.0,568.9 L897.5,588.9 L898.0,607.0 L898.5,623.4 L899.0,638.6 L899.5,652.5 L900.0,665.5 L900.5,677.7 L901.0,689.1 L901.5,699.8 L902.0,710.0 L902.5,719.6 L903.0,728.7 L903.5,737.5 L904.0,745.8 L904.5,753.8 L905.0,761.4 L905.5,768.8 L906.0,775.8 L906.5,782.7 L907.0,789.2 L907.5,795.6 L908.0,801.7 L908.5,807.7 L909.0,813.5 L909.5,819.1 L910.0,824.5 L910.5,829.8 L911.0,834.9 L911.5,839.9 L912.0,844.8 L912.5,849.6 L913.0,854.2 L913.5,858.7 L914.0,863.2 L914.5,867.5 L915.0,871.7 L915.5,875.8 L916.0,879.9 L916.5,883.9 L917.0,887.7 L917.5,891.5 L918.0,895.3 L918.5,898.9 L919.0,902.5 L919.5,906.1 L920.0,909.5 L920.5,912.9 L921.0,916.3 L921.5,919.5 L922.0,922.8 L922.5,925.9 L923.0,929.1 L923.5,932.1 L924.0,935.2 L924.5,938.2 L925.0,941.1 L925.5,944.0 L926.0,946.8 L926.5,949.6 L927.0,952.4 L927.5,955.1 L928.0,957.8 L928.5,960.5 L929.0,963.1 L929.5,965.7 L930.0,968.2 L930.5,970.8 L931.0,973.2 L931.5,975.7 L932.0,978.1 L932.5,980.5 L933.0,982.9 L933.5,985.2 L934.0,987.5 L934.5,989.8 L935.0,992.1 L935.5,994.3 L936.0,996.5 L936.5,998.7 L937.0,1000.9 L937.5,1003.0 L938.0,1005.1 L938.5,1007.2 L939.0,1009.3 L939.5,1011.3 L940.0,1013.3 L940.5,1015.3 L941.0,1017.3 L941.5,1019.3 L942.0,1021.2 L942.5,1023.2 L943.0,1025.1 L943.5,1027.0 L944.0,1028.8 L944.5,1030.7 L945.0,1032.5 L945.5,1034.4 L946.0,1036.2 L946.5,1038.0 L947.0,1039.7 L947.5,1041.5 L948.0,1043.2 L948.5,1045.0 L949.0,1046.7 L949.5,1048.4 L950.0,1050.1 L950.5,1051.7 L951.0,1053.4 L951.5,1055.0 L952.0,1056.7 L952.5,1058.3 L953.0,1059.9 L953.5,1061.5 L954.0,1063.1 L954.5,1064.6 L955.0,1066.2 L955.5,1067.7 L956.0,1069.3 L956.5,1070.8 L957.0,1072.3 L957.5,1073.8 L958.0,1075.3 L958.5,1076.8 L959.0,1078.2 L959.5,1079.7 L960.0,1081.1 L960.5,1082.6 L961.0,1084.0 L961.5,1085.4 L962.0,1086.8 L962.5,1088.2 L963.0,1089.6 L963.5,1091.0 L964.0,1092.4 L964.5,1093.7 L965.0,1095.1 L965.5,1096.4 L966.0,1097.8 L966.5,1099.1 L967.0,1100.4 L967.5,1101.7 L968.0,1103.0 L968.5,1104.3 L969.0,1105.6 L969.5,1106.9 L970.0,1108.1 L970.5,1109.4 L971.0,1110.6 L971.5,1111.9 L972.0,1113.1 L972.5,1114.4 L973.0,1115.6 L973.5,1116.8 L974.0,1118.0 L974.5,1119.2 L975.0,1120.4 L975.5,1121.6 L976.0,1122.8 L976.5,1124.0 L977.0,1125.1 L977.5,1126.3 L978.0,1127.4 L978.5,1128.6 L979.0,1129.7 L979.5,1130.9 L980.0,1132.0 L980.5,1133.1 L981.0,1134.3 L981.5,1135.4 L982.0,1136.5 L982.5,1137.6 L983.0,1138.7 L983.5,1139.8 L984.0,1140.9 L984.5,1141.9 L985.0,1143.0 L985.5,1144.1 L986.0,1145.1 L986.5,1146.2 L987.0,1147.3 L987.5,1148.3 L988.0,1149.3 L988.5,1150.4 L989.0,1151.4 L989.5,1152.4 L990.0,1153.5 L990.5,1154.5 L991.0,1155.5 L991.5,1156.5 L992.0,1157.5 L992.5,1158.5 L993.0,1159.5 L993.5,1160.5 L994.0,1161.5 L994.5,1162.5 L995.0,1163.4 L995.5,1164.4 L996.0,1165.4 L996.5,1166.3 L997.0,1167.3 L997.5,1168.3 L998.0,1169.2 L998.5,1170.2 L999.0,1171.1 L999.5,1172.0 L1000.0,1173.0 L1000.5,1173.9 L1001.0,1174.8 L1001.5,1175.8 L1002.0,1176.7 L1002.5,1177.6 L1003.0,1178.5 L1003.5,1179.4 L1004.0,1180.3 L1004.5,1181.2 L1005.0,1182.1 L1005.5,1183.0 L1006.0,1183.9 L1006.5,1184.8 L1007.0,1185.7 L1007.5,1186.5 L1008.0,1187.4 L1008.5,1188.3 L1009.0,1189.1 L1009.5,1190.0 L1010.0,1190.9 L1010.5,1191.7 L1011.0,1192.6 L1011.5,1193.4 L1012.0,1194.3 L1012.5,1195.1 L1013.0,1196.0 L1013.5,1196.8 L1014.0,1197.6 L1014.5,1198.5 L1015.0,1199.3 L1015.5,1200.1 L1016.0,1200.9 L1016.5,1201.8 L1017.0,1202.6 L1017.5,1203.4 L1018.0,1204.2 L1018.5,1205.0 L1019.0,1205.8 L1019.5,1206.6 L1020.0,1207.4 L1020.5,1208.2 L1021.0,1209.0 L1021.5,1209.8 L1022.0,1210.6 L1022.5,1211.4 L1023.0,1212.2 L1023.5,1212.9 L1024.0,1213.7 L1024.5,1214.5 L1025.0,1215.3 L1025.5,1216.0 L1026.0,1216.8 L1026.5,1217.6 L1027.0,1218.3 L1027.5,1219.1 L1028.0,1219.8 L1028.5,1220.6 L1029.0,1221.3 L1029.5,1222.1 L1030.0,1222.8 L1030.5,1223.6 L1031.0,1224.3 L1031.5,1225.0 L1032.0,1225.8 L1032.5,1226.5 L1033.0,1227.2 L1033.5,1228.0 L1034.0,1228.7 L1034.5,1229.4 L1035.0,1230.2 L1035.5,1230.9 L1036.0,1231.6 L1036.5,1232.3 L1037.0,1233.0 L1037.5,1233.7 L1038.0,1234.4 L1038.5,1235.1 L1039.0,1235.8 L1039.5,1236.5 L1040.0,1237.2 L1040.5,1237.9 L1041.0,1238.6 L1041.5,1239.3 L1042.0,1240.0 L1042.5,1240.7 L1043.0,1241.4 L1043.5,1242.1 L1044.0,1242.8 L1044.5,1243.5 L1045.0,1244.1 L1045.5,1244.8 L1046.0,1245.5 L1046.5,1246.2 L1047.0,1246.8 L1047.5,1247.5 L1048.0,1248.2 L1048.5,1248.8 L1049.0,1249.5 L1049.5,1250.2 L1050.0,1250.8 L1050.5,1251.5 L1051.0,1252.1 L1051.5,1252.8 L1052.0,1253.4 L1052.5,1254.1 L1053.0,1254.7 L1053.5,1255.4 L1054.0,1256.0 L1054.5,1256.7 L1055.0,1257.3 L1055.5,1257.9 L1056.0,1258.6 L1056.5,1259.2 L1057.0,1259.9 L1057.5,1260.5 L1058.0,1261.1 L1058.5,1261.7 L1059.0,1262.4 L1059.5,1263.0 L1060.0,1263.6 L1060.5,1264.2 L1061.0,1264.9 L1061.5,1265.5 L1062.0,1266.1 L1062.5,1266.7 L1063.0,1267.3 L1063.5,1267.9 L1064.0,1268.6 L1064.5,1269.2 L1065.0,1269.8 L1065.5,1270.4 L1066.0,1271.0 L1066.5,1271.6 L1067.0,1272.2 L1067.5,1272.8 L1068.0,1273.4 L1068.5,1274.0 L1069.0,1274.6 L1069.5,1275.2 L1070.0,1275.8 L1070.5,1276.4 L1071.0,1276.9 L1071.5,1277.5 L1072.0,1278.1 L1072.5,1278.7 L1073.0,1279.3 L1073.5,1279.9 L1074.0,1280.5 L1074.5,1281.0 L1075.0,1281.6 L1075.5,1282.2 L1076.0,1282.8 L1076.5,1283.3 L1077.0,1283.9 L1077.5,1284.5 L1078.0,1285.0 L1078.5,1285.6 L1079.0,1286.2 L1079.5,1286.8 L1080.0,1287.3 L1080.5,1287.9 L1081.0,1288.4 L1081.5,1289.0 L1082.0,1289.6 L1082.5,1290.1 L1083.0,1290.7 L1083.5,1291.2 L1084.0,1291.8 L1084.5,1292.3 L1085.0,1292.9 L1085.5,1293.4 L1086.0,1294.0 L1086.5,1294.5 L1087.0,1295.1 L1087.5,1295.6 L1088.0,1296.2 L1088.5,1296.7 L1089.0,1297.3 L1089.5,1297.8 L1090.0,1298.3 L1090.5,1298.9 L1091.0,1299.4 L1091.5,1299.9 L1092.0,1300.5 L1092.5,1301.0 L1093.0,1301.5 L1093.5,1302.1 L1094.0,1302.6 L1094.5,1303.1 L1095.0,1303.7 L1095.5,1304.2 L1096.0,1304.7 L1096.5,1305.2 L1097.0,1305.8 L1097.5,1306.3 L1098.0,1306.8 L1098.5,1307.3 L1099.0,1307.8 L1099.5,1308.3 L1100.0,1308.9 L1100.5,1309.4 L1101.0,1309.9 L1101.5,1310.4 L1102.0,1310.9 L1102.5,1311.4 L1103.0,1311.9 L1103.5,1312.4 L1104.0,1313.0 L1104.5,1313.5 L1105.0,1314.0 L1105.5,1314.5 L1106.0,1315.0 L1106.5,1315.5 L1107.0,1316.0 L1107.5,1316.5 L1108.0,1317.0 L1108.5,1317.5 L1109.0,1318.0 L1109.5,1318.5 L1110.0,1319.0 L1110.5,1319.5 L1111.0,1319.9 L1111.5,1320.4 L1112.0,1320.9 L1112.5,1321.4 L1113.0,1321.9 L1113.5,1322.4 L1114.0,1322.9 L1114.5,1323.4 L1115.0,1323.9 L1115.5,1324.3 L1116.0,1324.8 L1116.5,1325.3 L1117.0,1325.8 L1117.5,1326.3 L1118.0,1326.7 L1118.5,1327.2 L1119.0,1327.7 L1119.5,1328.2 L1120.0,1328.7 L1120.5,1329.1 L1121.0,1329.6 L1121.5,1330.1 L1122.0,1330.6 L1122.5,1331.0 L1123.0,1331.5 L1123.5,1332.0 L1124.0,1332.4 L1124.5,1332.9 L1125.0,1333.4 L1125.5,1333.8 L1126.0,1334.3 L1126.5,1334.8 L1127.0,1335.2 L1127.5,1335.7 L1128.0,1336.1 L1128.5,1336.6 L1129.0,1337.1 L1129.5,1337.5 L1130.0,1338.0 L1130.5,1338.4 L1131.0,1338.9 L1131.5,1339.4 L1132.0,1339.8 L1132.5,1340.3 L1133.0,1340.7 L1133.5,1341.2 L1134.0,1341.6 L1134.5,1342.1 L1135.0,1342.5 L1135.5,1343.0 L1136.0,1343.4 L1136.5,1343.9 L1137.0,1344.3 L1137.5,1344.8 L1138.0,1345.2 L1138.5,1345.7 L1139.0,1346.1 L1139.5,1346.5 L1140.0,1347.0 L1140.5,1347.4 L1141.0,1347.9 L1141.5,1348.3 L1142.0,1348.7 L1142.5,1349.2 L1143.0,1349.6 L1143.5,1350.1 L1144.0,1350.5 L1144.5,1350.9 L1145.0,1351.4 L1145.5,1351.8 L1146.0,1352.2 L1146.5,1352.7 L1147.0,1353.1 L1147.5,1353.5 L1148.0,1354.0 L1148.5,1354.4 L1149.0,1354.8 L1149.5,1355.2 L1150.0,1355.7 L1150.5,1356.1 L1151.0,1356.5 L1151.5,1356.9 L1152.0,1357.4 L1152.5,1357.8 L1153.0,1358.2 L1153.5,1358.6 L1154.0,1359.1 L1154.5,1359.5 L1155.0,1359.9 L1155.5,1360.3 L1156.0,1360.7 L1156.5,1361.2 L1157.0,1361.6 L1157.5,1362.0 L1158.0,1362.4 L1158.5,1362.8 L1159.0,1363.2 L1159.5,1363.6 L1160.0,1364.1 L1160.5,1364.5 L1161.0,1364.9 L1161.5,1365.3 L1162.0,1365.7 L1162.5,1366.1 L1163.0,1366.5 L1163.5,1366.9 L1164.0,1367.3 L1164.5,1367.8 L1165.0,1368.2 L1165.5,1368.6 L1166.0,1369.0 L1166.5,1369.4 L1167.0,1369.8 L1167.5,1370.2 L1168.0,1370.6 L1168.5,1371.0 L1169.0,1371.4 L1169.5,1371.8 L1170.0,1372.2 L1170.5,1372.6 L1171.0,1373.0 L1171.5,1373.4 L1172.0,1373.8 L1172.5,1374.2 L1173.0,1374.6 L1173.5,1375.0 L1174.0,1375.4 L1174.5,1375.8 L1175.0,1376.2 L1175.5,1376.6 L1176.0,1377.0 L1176.5,1377.3 L1177.0,1377.7 L1177.5,1378.1 L1178.0,1378.5 L1178.5,1378.9 L1179.0,1379.3 L1179.5,1379.7 L1180.0,1380.1 L1180.5,1380.5 L1181.0,1380.9 L1181.5,1381.2 L1182.0,1381.6 L1182.5,1382.0 L1183.0,1382.4 L1183.5,1382.8 L1184.0,1383.2 L1184.5,1383.5 L1185.0,1383.9 L1185.5,1384.3 L1186.0,1384.7 L1186.5,1385.1 L1187.0,1385.5 L1187.5,1385.8 L1188.0,1386.2 L1188.5,1386.6 L1188.9,1387.0 L1189.4,1387.3 L1189.9,1387.7 L1190.4,1388.1 L1190.9,1388.5 L1191.4,1388.9 L1191.9,1389.2 L1192.4,1389.6 L1192.9,1390.0 L1193.4,1390.3 L1193.9,1390.7 L1194.4,1391.1 L1194.9,1391.5 L1195.4,1391.8 L1195.9,1392.2 L1196.4,1392.6 L1196.9,1392.9 L1197.4,1393.3 L1197.9,1393.7 L1198.4,1394.1 L1198.9,1394.4 L1199.4,1394.8 L1199.9,1395.2 L1200.4,1395.5 L1200.9,1395.9 L1201.4,1396.3 L1201.9,1396.6 L1202.4,1397.0 L1202.9,1397.3 L1203.4,1397.7 L1203.9,1398.1 L1204.4,1398.4 L1204.9,1398.8 L1205.4,1399.2 L1205.9,1399.5 L1206.4,1399.9 L1206.9,1400.2 L1207.4,1400.6 L1207.9,1401.0 L1208.4,1401.3 L1208.9,1401.7 L1209.4,1402.0 L1209.9,1402.4 L1210.4,1402.7 L1210.9,1403.1 L1211.4,1403.5 L1211.9,1403.8 L1212.4,1404.2 L1212.9,1404.5 L1213.4,1404.9 L1213.9,1405.2 L1214.4,1405.6 L1214.9,1405.9 L1215.4,1406.3 L1215.9,1406.6 L1216.4,1407.0 L1216.9,1407.3 L1217.4,1407.7 L1217.9,1408.0 L1218.4,1408.4 L1218.9,1408.7 L1219.4,1409.1 L1219.9,1409.4 L1220.4,1409.8 L1220.9,1410.1 L1221.4,1410.5 L1221.9,1410.8 L1222.4,1411.2 L1222.9,1411.5 L1223.4,1411.8 L1223.9,1412.2 L1224.4,1412.5 L1224.9,1412.9 L1225.4,1413.2 L1225.9,1413.6 L1226.4,1413.9 L1226.9,1414.2 L1227.4,1414.6 L1227.9,1414.9 L1228.4,1415.3 L1228.9,1415.6 L1229.4,1415.9 L1229.9,1416.3 L1230.4,1416.6 L1230.9,1417.0 L1231.4,1417.3 L1231.9,1417.6 L1232.4,1418.0 L1232.9,1418.3 L1233.4,1418.6 L1233.9,1419.0 L1234.4,1419.3 L1234.9,1419.6 L1235.4,1420.0 L1235.9,1420.3 L1236.4,1420.6 L1236.9,1421.0 L1237.4,1421.3 L1237.9,1421.6 L1238.4,1422.0 L1238.9,1422.3 L1239.4,1422.6 L1239.9,1423.0 L1240.4,1423.3 L1240.9,1423.6 L1241.4,1424.0 L1241.9,1424.3 L1242.4,1424.6 L1242.9,1424.9 L1243.4,1425.3 L1243.9,1425.6 L1244.4,1425.9 L1244.9,1426.2 L1245.4,1426.6 L1245.9,1426.9 L1246.4,1427.2 L1246.9,1427.5 L1247.4,1427.9 L1247.9,1428.2 L1248.4,1428.5 L1248.9,1428.8 L1249.4,1429.2 L1249.9,1429.5 L1250.4,1429.8 L1250.9,1430.1 L1251.4,1430.5 L1251.9,1430.8 L1252.4,1431.1 L1252.9,1431.4 L1253.4,1431.7 L1253.9,1432.1 L1254.4,1432.4 L1254.9,1432.7 L1255.4,1433.0 L1255.9,1433.3 L1256.4,1433.6 L1256.9,1434.0 L1257.4,1434.3 L1257.9,1434.6 L1258.4,1434.9 L1258.9,1435.2 L1259.4,1435.5 L1259.9,1435.9 L1260.4,1436.2 L1260.9,1436.5 L1261.4,1436.8 L1261.9,1437.1 L1262.4,1437.4 L1262.9,1437.7 L1263.4,1438.1 L1263.9,1438.4 L1264.4,1438.7 L1264.9,1439.0 L1265.4,1439.3 L1265.9,1439.6 L1266.4,1439.9 L1266.9,1440.2 L1267.4,1440.5 L1267.9,1440.8 L1268.4,1441.2 L1268.9,1441.5 L1269.4,1441.8 L1269.9,1442.1 L1270.4,1442.4 L1270.9,1442.7 L1271.4,1443.0 L1271.9,1443.3 L1272.4,1443.6 L1272.9,1443.9 L1273.4,1444.2 L1273.9,1444.5 L1274.4,1444.8 L1274.9,1445.1 L1275.4,1445.4 L1275.9,1445.8 L1276.4,1446.1 L1276.9,1446.4 L1277.4,1446.7 L1277.9,1447.0 L1278.4,1447.3 L1278.9,1447.6 L1279.4,1447.9 L1279.9,1448.2 L1280.4,1448.5 L1280.9,1448.8 L1281.4,1449.1 L1281.9,1449.4 L1282.4,1449.7 L1282.9,1450.0 L1283.4,1450.3 L1283.9,1450.6 L1284.4,1450.9 L1284.9,1451.2 L1285.4,1451.5 L1285.9,1451.8 L1286.4,1452.1 L1286.9,1452.4 L1287.4,1452.7 L1287.9,1452.9 L1288.4,1453.2 L1288.9,1453.5 L1289.4,1453.8 L1289.9,1454.1 L1290.4,1454.4 L1290.9,1454.7 L1291.4,1455.0 L1291.9,1455.3 L1292.4,1455.6 L1292.9,1455.9 L1293.4,1456.2 L1293.9,1456.5 L1294.4,1456.8 L1294.9,1457.1 L1295.4,1457.4 L1295.9,1457.6 L1296.4,1457.9 L1296.9,1458.2 L1297.4,1458.5 L1297.9,1458.8 L1298.4,1459.1 L1298.9,1459.4 L1299.4,1459.7 L1299.9,1460.0 L1300.4,1460.2 L1300.9,1460.5 L1301.4,1460.8 L1301.9,1461.1 L1302.4,1461.4 L1302.9,1461.7 L1303.4,1462.0 L1303.9,1462.3 L1304.4,1462.5 L1304.9,1462.8 L1305.4,1463.1 L1305.9,1463.4 L1306.4,1463.7 L1306.9,1464.0 L1307.4,1464.3 L1307.9,1464.5 L1308.4,1464.8 L1308.9,1465.1 L1309.4,1465.4 L1309.9,1465.7 L1310.4,1466.0 L1310.9,1466.2 L1311.4,1466.5 L1311.9,1466.8 L1312.4,1467.1 L1312.9,1467.4 L1313.4,1467.6 L1313.9,1467.9 L1314.4,1468.2 L1314.9,1468.5 L1315.4,1468.8 L1315.9,1469.0 L1316.4,1469.3 L1316.9,1469.6 L1317.4,1469.9 L1317.9,1470.2 L1318.4,1470.4 L1318.9,1470.7 L1319.4,1471.0 L1319.9,1471.3 L1320.4,1471.6 L1320.9,1471.8 L1321.4,1472.1 L1321.9,1472.4 L1322.4,1472.7 L1322.9,1472.9 L1323.4,1473.2 L1323.9,1473.5 L1324.4,1473.8 L1324.9,1474.0 L1325.4,1474.3 L1325.9,1474.6 L1326.4,1474.9 L1326.9,1475.1 L1327.4,1475.4 L1327.9,1475.7 L1328.4,1475.9 L1328.9,1476.2 L1329.4,1476.5 L1329.9,1476.8 L1330.4,1477.0 L1330.9,1477.3 L1331.4,1477.6 L1331.9,1477.8 L1332.4,1478.1 L1332.9,1478.4 L1333.4,1478.7 L1333.9,1478.9 L1334.4,1479.2 L1334.9,1479.5 L1335.4,1479.7 L1335.9,1480.0 L1336.4,1480.3 L1336.9,1480.5 L1337.4,1480.8 L1337.9,1481.1 L1338.4,1481.3 L1338.9,1481.6 L1339.4,1481.9 L1339.9,1482.2 L1340.4,1482.4 L1340.9,1482.7 L1341.4,1482.9 L1341.9,1483.2 L1342.4,1483.5 L1342.9,1483.7 L1343.4,1484.0 L1343.9,1484.3 L1344.4,1484.5 L1344.9,1484.8 L1345.4,1485.1 L1345.9,1485.3 L1346.4,1485.6 L1346.9,1485.9 L1347.4,1486.1 L1347.9,1486.4 L1348.4,1486.6 L1348.9,1486.9 L1349.4,1487.2 L1349.9,1487.4 L1350.4,1487.7 L1350.9,1488.0 L1351.4,1488.2 L1351.9,1488.5 L1352.4,1488.7 L1352.9,1489.0 L1353.4,1489.3 L1353.9,1489.5 L1354.4,1489.8 L1354.9,1490.0 L1355.4,1490.3 L1355.9,1490.6 L1356.4,1490.8 L1356.9,1491.1 L1357.4,1491.3 L1357.9,1491.6 L1358.4,1491.9 L1358.9,1492.1 L1359.4,1492.4 L1359.9,1492.6 L1360.4,1492.9 L1360.9,1493.1 L1361.4,1493.4 L1361.9,1493.7 L1362.4,1493.9 L1362.9,1494.2 L1363.4,1494.4 L1363.9,1494.7 L1364.4,1494.9 L1364.9,1495.2 L1365.4,1495.4 L1365.9,1495.7 L1366.4,1496.0 L1366.9,1496.2 L1367.4,1496.5 L1367.9,1496.7 L1368.4,1497.0 L1368.9,1497.2 L1369.4,1497.5 L1369.9,1497.7 L1370.4,1498.0 L1370.9,1498.2 L1371.4,1498.5 L1371.9,1498.7 L1372.4,1499.0 L1372.9,1499.2 L1373.4,1499.5 L1373.9,1499.7 L1374.4,1500.0 L1374.9,1500.2 L1375.4,1500.5 L1375.9,1500.7 L1376.4,1501.0 L1376.9,1501.2 L1377.4,1501.5 L1377.9,1501.7 L1378.4,1502.0 L1378.9,1502.2 L1379.4,1502.5 L1379.9,1502.7 L1380.4,1503.0 L1380.9,1503.2 L1381.4,1503.5 L1381.9,1503.7 L1382.4,1504.0 L1382.9,1504.2 L1383.4,1504.5 L1383.9,1504.7 L1384.4,1505.0 L1384.9,1505.2 L1385.4,1505.5 L1385.9,1505.7 L1386.4,1505.9 L1386.9,1506.2 L1387.4,1506.4 L1387.9,1506.7 L1388.4,1506.9 L1388.9,1507.2 L1389.4,1507.4 L1389.9,1507.7 L1390.4,1507.9 L1390.9,1508.1 L1391.4,1508.4 L1391.9,1508.6 L1392.4,1508.9 L1392.9,1509.1 L1393.4,1509.4 L1393.9,1509.6 L1394.4,1509.9 L1394.9,1510.1 L1395.4,1510.3 L1395.9,1510.6 L1396.4,1510.8 L1396.9,1511.1 L1397.4,1511.3 L1397.9,1511.5 L1398.4,1511.8 L1398.9,1512.0 L1399.4,1512.3 L1399.9,1512.5 L1400.4,1512.7 L1400.9,1513.0 L1401.4,1513.2 L1401.9,1513.5 L1402.4,1513.7 L1402.9,1513.9 L1403.4,1514.2 L1403.9,1514.4 L1404.4,1514.7 L1404.9,1514.9 L1405.4,1515.1 L1405.9,1515.4 L1406.4,1515.6 L1406.9,1515.8 L1407.4,1516.1 L1407.9,1516.3 L1408.4,1516.6 L1408.9,1516.8 L1409.4,1517.0 L1409.9,1517.3 L1410.4,1517.5 L1410.9,1517.7 L1411.4,1518.0 L1411.9,1518.2 L1412.4,1518.4 L1412.9,1518.7 L1413.4,1518.9 L1413.9,1519.2 L1414.4,1519.4 L1414.9,1519.6 L1415.4,1519.9 L1415.9,1520.1 L1416.4,1520.3 L1416.9,1520.6 L1417.4,1520.8 L1417.9,1521.0 L1418.4,1521.3 L1418.9,1521.5 L1419.4,1521.7 L1419.9,1522.0 L1420.4,1522.2 L1420.9,1522.4 L1421.4,1522.7 L1421.9,1522.9 L1422.4,1523.1 L1422.9,1523.3 L1423.4,1523.6 L1423.9,1523.8 L1424.4,1524.0 L1424.9,1524.3 L1425.4,1524.5 L1425.9,1524.7 L1426.4,1525.0 L1426.9,1525.2 L1427.4,1525.4 L1427.9,1525.7 L1428.4,1525.9 L1428.9,1526.1 L1429.4,1526.3 L1429.9,1526.6 L1430.4,1526.8 L1430.9,1527.0 L1431.4,1527.3 L1431.9,1527.5 L1432.4,1527.7 L1432.9,1527.9 L1433.4,1528.2 L1433.9,1528.4 L1434.4,1528.6 L1434.9,1528.9 L1435.4,1529.1 L1435.9,1529.3 L1436.4,1529.5 L1436.9,1529.8 L1437.4,1530.0 L1437.9,1530.2 L1438.4,1530.4 L1438.9,1530.7 L1439.4,1530.9 L1439.9,1531.1 L1440.4,1531.3 L1440.9,1531.6 L1441.4,1531.8 L1441.9,1532.0 L1442.4,1532.2 L1442.9,1532.5 L1443.4,1532.7 L1443.9,1532.9 L1444.4,1533.1 L1444.9,1533.4 L1445.4,1533.6 L1445.9,1533.8 L1446.4,1534.0 L1446.9,1534.3 L1447.4,1534.5 L1447.9,1534.7 L1448.4,1534.9 L1448.9,1535.1 L1449.4,1535.4 L1449.9,1535.6 L1450.4,1535.8 L1450.9,1536.0 L1451.4,1536.3 L1451.9,1536.5 L1452.4,1536.7 L1452.9,1536.9 L1453.4,1537.1 L1453.9,1537.4 L1454.4,1537.6 L1454.9,1537.8 L1455.4,1538.0 L1455.9,1538.2 L1456.4,1538.5 L1456.9,1538.7 L1457.4,1538.9 L1457.9,1539.1 L1458.4,1539.3 L1458.9,1539.6 L1459.4,1539.8 L1459.9,1540.0 L1460.4,1540.2 L1460.9,1540.4 L1461.4,1540.7 L1461.9,1540.9 L1462.4,1541.1 L1462.9,1541.3 L1463.4,1541.5 L1463.9,1541.7 L1464.4,1542.0 L1464.9,1542.2 L1465.4,1542.4 L1465.9,1542.6 L1466.4,1542.8 L1466.9,1543.1 L1467.4,1543.3 L1467.9,1543.5 L1468.4,1543.7 L1468.9,1543.9 L1469.4,1544.1 L1469.9,1544.3 L1470.4,1544.6 L1470.9,1544.8 L1471.4,1545.0 L1471.9,1545.2 L1472.4,1545.4 L1472.9,1545.6 L1473.4,1545.9 L1473.9,1546.1 L1474.4,1546.3 L1474.9,1546.5 L1475.4,1546.7 L1475.9,1546.9 L1476.4,1547.1 L1476.9,1547.4 L1477.4,1547.6 L1477.9,1547.8 L1478.4,1548.0 L1478.9,1548.2 L1479.4,1548.4 L1479.9,1548.6 L1480.4,1548.8 L1480.9,1549.1 L1481.4,1549.3 L1481.9,1549.5 L1482.4,1549.7 L1482.9,1549.9 L1483.4,1550.1 L1483.9,1550.3 L1484.4,1550.5 L1484.9,1550.8 L1485.4,1551.0 L1485.9,1551.2 L1486.4,1551.4 L1486.9,1551.6 L1487.4,1551.8 L1487.9,1552.0 L1488.4,1552.2 L1488.9,1552.4 L1489.4,1552.6 L1489.9,1552.9 L1490.4,1553.1 L1490.9,1553.3 L1491.4,1553.5 L1491.9,1553.7 L1492.4,1553.9 L1492.9,1554.1 L1493.4,1554.3 L1493.9,1554.5 L1494.4,1554.7 L1494.9,1554.9 L1495.4,1555.2 L1495.9,1555.4 L1496.4,1555.6 L1496.9,1555.8 L1497.4,1556.0 L1497.9,1556.2 L1498.4,1556.4 L1498.9,1556.6 L1499.4,1556.8 L1499.9,1557.0 L1500.4,1557.2 L1500.9,1557.4 L1501.4,1557.6 L1501.9,1557.8 L1502.4,1558.1 L1502.9,1558.3 L1503.4,1558.5 L1503.9,1558.7 L1504.4,1558.9 L1504.9,1559.1 L1505.4,1559.3 L1505.9,1559.5 L1506.4,1559.7 L1506.9,1559.9 L1507.4,1560.1 L1507.9,1560.3 L1508.4,1560.5 L1508.9,1560.7 L1509.4,1560.9 L1509.9,1561.1 L1510.4,1561.3 L1510.9,1561.5 L1511.4,1561.7 L1511.9,1561.9 L1512.4,1562.1 L1512.9,1562.3 L1513.4,1562.6 L1513.9,1562.8 L1514.4,1563.0 L1514.9,1563.2 L1515.4,1563.4 L1515.9,1563.6 L1516.4,1563.8 L1516.9,1564.0 L1517.4,1564.2 L1517.9,1564.4 L1518.4,1564.6 L1518.9,1564.8 L1519.4,1565.0 L1519.9,1565.2 L1520.4,1565.4 L1520.9,1565.6 L1521.4,1565.8 L1521.9,1566.0 L1522.4,1566.2 L1522.9,1566.4 L1523.4,1566.6 L1523.9,1566.8 L1524.4,1567.0 L1524.9,1567.2 L1525.4,1567.4 L1525.9,1567.6 L1526.4,1567.8 L1526.9,1568.0 L1527.4,1568.2 L1527.9,1568.4 L1528.4,1568.6 L1528.9,1568.8 L1529.4,1569.0 L1529.9,1569.2 L1530.4,1569.4 L1530.9,1569.6 L1531.4,1569.8 L1531.9,1570.0 L1532.4,1570.2 L1532.9,1570.4 L1533.4,1570.6 L1533.9,1570.8 L1534.4,1571.0 L1534.9,1571.2 L1535.4,1571.4 L1535.9,1571.6 L1536.4,1571.8 L1536.9,1572.0 L1537.4,1572.1 L1537.9,1572.3 L1538.4,1572.5 L1538.9,1572.7 L1539.4,1572.9 L1539.9,1573.1 L1540.4,1573.3 L1540.9,1573.5 L1541.4,1573.7 L1541.9,1573.9 L1542.4,1574.1 L1542.9,1574.3 L1543.4,1574.5 L1543.9,1574.7 L1544.4,1574.9 L1544.9,1575.1 L1545.4,1575.3 L1545.9,1575.5 L1546.4,1575.7 L1546.9,1575.9 L1547.4,1576.1 L1547.9,1576.3 L1548.4,1576.4 L1548.9,1576.6 L1549.4,1576.8 L1549.9,1577.0 L1550.4,1577.2 L1550.9,1577.4 L1551.4,1577.6 L1551.9,1577.8 L1552.4,1578.0 L1552.9,1578.2 L1553.4,1578.4 L1553.9,1578.6 L1554.4,1578.8 L1554.9,1579.0 L1555.4,1579.2 L1555.9,1579.3 L1556.4,1579.5 L1556.9,1579.7 L1557.4,1579.9 L1557.9,1580.1 L1558.4,1580.3 L1558.9,1580.5 L1559.4,1580.7 L1559.9,1580.9 L1560.4,1581.1 L1560.9,1581.3 L1561.4,1581.5 L1561.9,1581.6 L1562.4,1581.8 L1562.9,1582.0 L1563.4,1582.2 L1563.9,1582.4 L1564.4,1582.6 L1564.9,1582.8 L1565.4,1583.0 L1565.9,1583.2 L1566.4,1583.4 L1566.9,1583.5 L1567.4,1583.7 L1567.9,1583.9 L1568.4,1584.1 L1568.9,1584.3 L1569.4,1584.5 L1569.9,1584.7 L1570.4,1584.9 L1570.9,1585.1 L1571.4,1585.2 L1571.9,1585.4 L1572.4,1585.6 L1572.9,1585.8 L1573.4,1586.0 L1573.9,1586.2 L1574.4,1586.4 L1574.9,1586.6 L1575.4,1586.8 L1575.9,1586.9 L1576.4,1587.1 L1576.9,1587.3 L1577.4,1587.5 L1577.9,1587.7 L1578.4,1587.9 L1578.9,1588.1 L1579.4,1588.3 L1579.9,1588.4 L1580.4,1588.6 L1580.9,1588.8 L1581.4,1589.0 L1581.9,1589.2 L1582.4,1589.4 L1582.9,1589.6 L1583.4,1589.7 L1583.9,1589.9 L1584.4,1590.1 L1584.9,1590.3 L1585.4,1590.5 L1585.9,1590.7 L1586.4,1590.9 L1586.9,1591.0 L1587.4,1591.2 L1587.9,1591.4 L1588.4,1591.6 L1588.9,1591.8 L1589.4,1592.0 L1589.9,1592.1 L1590.4,1592.3 L1590.9,1592.5 L1591.4,1592.7 L1591.9,1592.9 L1592.4,1593.1 L1592.9,1593.3 L1593.4,1593.4 L1593.9,1593.6 L1594.4,1593.8 L1594.9,1594.0 L1595.4,1594.2 L1595.9,1594.4 L1596.4,1594.5 L1596.9,1594.7 L1597.4,1594.9 L1597.9,1595.1 L1598.4,1595.3 L1598.9,1595.5 L1599.4,1595.6 L1599.9,1595.8 L1600.4,1596.0 L1600.9,1596.2 L1601.4,1596.4 L1601.9,1596.5 L1602.4,1596.7 L1602.9,1596.9 L1603.4,1597.1 L1603.9,1597.3 L1604.4,1597.5 L1604.9,1597.6 L1605.4,1597.8 L1605.9,1598.0 L1606.4,1598.2 L1606.9,1598.4 L1607.4,1598.5 L1607.9,1598.7 L1608.4,1598.9 L1608.9,1599.1 L1609.4,1599.3 L1609.9,1599.4 L1610.4,1599.6 L1610.9,1599.8 L1611.4,1600.0 L1611.9,1600.2 L1612.4,1600.3 L1612.9,1600.5 L1613.4,1600.7 L1613.9,1600.9 L1614.4,1601.1 L1614.9,1601.2 L1615.4,1601.4 L1615.9,1601.6 L1616.4,1601.8 L1616.9,1602.0 L1617.4,1602.1 L1617.9,1602.3 L1618.4,1602.5 L1618.9,1602.7 L1619.4,1602.8 L1619.9,1603.0 L1620.4,1603.2 L1620.9,1603.4 L1621.4,1603.6 L1621.9,1603.7 L1622.4,1603.9 L1622.9,1604.1 L1623.4,1604.3 L1623.9,1604.4 L1624.4,1604.6 L1624.9,1604.8 L1625.4,1605.0 L1625.9,1605.2 L1626.4,1605.3 L1626.9,1605.5 L1627.4,1605.7 L1627.9,1605.9 L1628.4,1606.0 L1628.9,1606.2 L1629.4,1606.4 L1629.9,1606.6 L1630.4,1606.7 L1630.9,1606.9 L1631.4,1607.1 L1631.9,1607.3 L1632.4,1607.4 L1632.9,1607.6 L1633.4,1607.8 L1633.9,1608.0 L1634.4,1608.1 L1634.9,1608.3 L1635.4,1608.5 L1635.9,1608.7 L1636.4,1608.8 L1636.9,1609.0 L1637.4,1609.2 L1637.9,1609.4 L1638.4,1609.5 L1638.9,1609.7 L1639.4,1609.9 L1639.9,1610.1 L1640.4,1610.2 L1640.9,1610.4 L1641.4,1610.6 L1641.9,1610.8 L1642.4,1610.9 L1642.9,1611.1 L1643.4,1611.3 L1643.9,1611.5 L1644.4,1611.6 L1644.9,1611.8 L1645.4,1612.0 L1645.9,1612.2 L1646.4,1612.3 L1646.9,1612.5 L1647.4,1612.7 L1647.9,1612.8 L1648.4,1613.0 L1648.9,1613.2 L1649.4,1613.4 L1649.9,1613.5 L1650.4,1613.7 L1650.9,1613.9 L1651.4,1614.1 L1651.9,1614.2 L1652.4,1614.4 L1652.9,1614.6 L1653.4,1614.7 L1653.9,1614.9 L1654.4,1615.1 L1654.9,1615.3 L1655.4,1615.4 L1655.9,1615.6 L1656.4,1615.8 L1656.9,1615.9 L1657.4,1616.1 L1657.9,1616.3 L1658.4,1616.4 L1658.9,1616.6 L1659.4,1616.8 L1659.9,1617.0 L1660.4,1617.1 L1660.9,1617.3 L1661.4,1617.5 L1661.9,1617.6 L1662.4,1617.8 L1662.9,1618.0 L1663.4,1618.2 L1663.9,1618.3 L1664.4,1618.5 L1664.9,1618.7 L1665.4,1618.8 L1665.9,1619.0 L1666.4,1619.2 L1666.9,1619.3 L1667.4,1619.5 L1667.9,1619.7 L1668.4,1619.8 L1668.9,1620.0 L1669.4,1620.2 L1669.9,1620.4 L1670.4,1620.5 L1670.9,1620.7 L1671.4,1620.9 L1671.9,1621.0 L1672.4,1621.2 L1672.9,1621.4 L1673.4,1621.5 L1673.9,1621.7 L1674.4,1621.9 L1674.9,1622.0 L1675.4,1622.2 L1675.9,1622.4 L1676.4,1622.5 L1676.9,1622.7 L1677.4,1622.9 L1677.9,1623.0 L1678.4,1623.2 L1678.9,1623.4 L1679.4,1623.5 L1679.9,1623.7 L1680.4,1623.9 L1680.9,1624.0 L1681.4,1624.2 L1681.9,1624.4 L1682.4,1624.5 L1682.9,1624.7 L1683.4,1624.9 L1683.9,1625.0 L1684.4,1625.2 L1684.9,1625.4 L1685.4,1625.5 L1685.9,1625.7 L1686.4,1625.9 L1686.9,1626.0 L1687.4,1626.2 L1687.9,1626.4 L1688.4,1626.5 L1688.9,1626.7 L1689.4,1626.9 L1689.9,1627.0 L1690.4,1627.2 L1690.9,1627.4 L1691.4,1627.5 L1691.9,1627.7 L1692.4,1627.8 L1692.9,1628.0 L1693.4,1628.2 L1693.9,1628.3 L1694.4,1628.5 L1694.9,1628.7 L1695.4,1628.8 L1695.9,1629.0 L1696.4,1629.2 L1696.9,1629.3 L1697.4,1629.5 L1697.9,1629.7 L1698.4,1629.8 L1698.9,1630.0 L1699.4,1630.1 L1699.9,1630.3 L1700.4,1630.5 L1700.9,1630.6 L1701.4,1630.8 L1701.9,1631.0 L1702.4,1631.1 L1702.9,1631.3 L1703.4,1631.5 L1703.9,1631.6 L1704.4,1631.8 L1704.9,1631.9 L1705.4,1632.1 L1705.9,1632.3 L1706.4,1632.4 L1706.9,1632.6 L1707.4,1632.7 L1707.9,1632.9 L1708.4,1633.1 L1708.9,1633.2 L1709.4,1633.4 L1709.9,1633.6 L1710.4,1633.7 L1710.9,1633.9 L1711.4,1634.0 L1711.9,1634.2 L1712.4,1634.4 L1712.9,1634.5 L1713.4,1634.7 L1713.9,1634.9 L1714.4,1635.0 L1714.9,1635.2 L1715.4,1635.3 L1715.9,1635.5 L1716.4,1635.7 L1716.9,1635.8 L1717.4,1636.0 L1717.9,1636.1 L1718.4,1636.3 L1718.9,1636.5 L1719.4,1636.6 L1719.9,1636.8 L1720.4,1636.9 L1720.9,1637.1 L1721.4,1637.3 L1721.9,1637.4 L1722.4,1637.6 L1722.9,1637.7 L1723.4,1637.9 L1723.9,1638.1 L1724.4,1638.2 L1724.9,1638.4 L1725.4,1638.5 L1725.9,1638.7 L1726.4,1638.9 L1726.9,1639.0 L1727.4,1639.2 L1727.9,1639.3 L1728.4,1639.5 L1728.9,1639.6 L1729.4,1639.8 L1729.9,1640.0 L1730.4,1640.1 L1730.9,1640.3 L1731.4,1640.4 L1731.9,1640.6 L1732.4,1640.8 L1732.9,1640.9 L1733.4,1641.1 L1733.9,1641.2 L1734.4,1641.4 L1734.9,1641.5 L1735.4,1641.7 L1735.9,1641.9 L1736.4,1642.0 L1736.9,1642.2 L1737.4,1642.3 L1737.9,1642.5 L1738.4,1642.6 L1738.9,1642.8 L1739.4,1643.0 L1739.9,1643.1 L1740.4,1643.3 L1740.9,1643.4 L1741.4,1643.6 L1741.9,1643.7 L1742.4,1643.9 L1742.9,1644.1 L1743.4,1644.2 L1743.9,1644.4 L1744.4,1644.5 L1744.9,1644.7 L1745.4,1644.8 L1745.9,1645.0 L1746.4,1645.2 L1746.9,1645.3 L1747.4,1645.5 L1747.9,1645.6 L1748.4,1645.8 L1748.9,1645.9 L1749.4,1646.1 L1749.9,1646.2 L1750.4,1646.4 L1750.9,1646.6 L1751.4,1646.7 L1751.9,1646.9 L1752.4,1647.0 L1752.9,1647.2 L1753.4,1647.3 L1753.9,1647.5 L1754.4,1647.6 L1754.9,1647.8 L1755.4,1647.9 L1755.9,1648.1 L1756.4,1648.3 L1756.9,1648.4 L1757.4,1648.6 L1757.9,1648.7 L1758.4,1648.9 L1758.9,1649.0 L1759.4,1649.2 L1759.9,1649.3 L1760.4,1649.5 L1760.9,1649.6 L1761.4,1649.8 L1761.9,1650.0 L1762.4,1650.1 L1762.9,1650.3 L1763.4,1650.4 L1763.9,1650.6 L1764.4,1650.7 L1764.9,1650.9 L1765.4,1651.0 L1765.9,1651.2 L1766.4,1651.3 L1766.9,1651.5 L1767.4,1651.6 L1767.9,1651.8 L1768.4,1651.9 L1768.9,1652.1 L1769.4,1652.2 L1769.9,1652.4 L1770.4,1652.6 L1770.9,1652.7 L1771.4,1652.9 L1771.9,1653.0 L1772.4,1653.2 L1772.9,1653.3 L1773.4,1653.5 L1773.9,1653.6 L1774.4,1653.8 L1774.8,1653.9 L1775.3,1654.1 L1775.8,1654.2 L1776.3,1654.4 L1776.8,1654.5 L1777.3,1654.7 L1777.8,1654.8 L1778.3,1655.0 L1778.8,1655.1 L1779.3,1655.3 L1779.8,1655.4 L1780.3,1655.6 L1780.8,1655.7 L1781.3,1655.9 L1781.8,1656.0 L1782.3,1656.2 L1782.8,1656.3 L1783.3,1656.5 L1783.8,1656.6 L1784.3,1656.8 L1784.8,1656.9 L1785.3,1657.1 L1785.8,1657.2 L1786.3,1657.4 L1786.8,1657.5 L1787.3,1657.7 L1787.8,1657.8 L1788.3,1658.0 L1788.8,1658.1 L1789.3,1658.3 L1789.8,1658.4 L1790.3,1658.6 L1790.8,1658.7 L1791.3,1658.9 L1791.8,1659.0 L1792.3,1659.2 L1792.8,1659.3 L1793.3,1659.5 L1793.8,1659.6 L1794.3,1659.8 L1794.8,1659.9 L1795.3,1660.1 L1795.8,1660.2 L1796.3,1660.4 L1796.8,1660.5 L1797.3,1660.7 L1797.8,1660.8 L1798.3,1661.0 L1798.8,1661.1 L1799.3,1661.3 L1799.8,1661.4 L1800.3,1661.6 L1800.8,1661.7 L1801.3,1661.9 L1801.8,1662.0 L1802.3,1662.2 L1802.8,1662.3 L1803.3,1662.5 L1803.8,1662.6 L1804.3,1662.8 L1804.8,1662.9 L1805.3,1663.1 L1805.8,1663.2 L1806.3,1663.3 L1806.8,1663.5 L1807.3,1663.6 L1807.8,1663.8 L1808.3,1663.9 L1808.8,1664.1 L1809.3,1664.2 L1809.8,1664.4 L1810.3,1664.5 L1810.8,1664.7 L1811.3,1664.8 L1811.8,1665.0 L1812.3,1665.1 L1812.8,1665.3 L1813.3,1665.4 L1813.8,1665.5 L1814.3,1665.7 L1814.8,1665.8 L1815.3,1666.0 L1815.8,1666.1 L1816.3,1666.3 L1816.8,1666.4 L1817.3,1666.6 L1817.8,1666.7 L1818.3,1666.9 L1818.8,1667.0 L1819.3,1667.2 L1819.8,1667.3 L1820.3,1667.4 L1820.8,1667.6 L1821.3,1667.7 L1821.8,1667.9 L1822.3,1668.0 L1822.8,1668.2 L1823.3,1668.3 L1823.8,1668.5 L1824.3,1668.6 L1824.8,1668.8 L1825.3,1668.9 L1825.8,1669.0 L1826.3,1669.2 L1826.8,1669.3 L1827.3,1669.5 L1827.8,1669.6 L1828.3,1669.8 L1828.8,1669.9 L1829.3,1670.1 L1829.8,1670.2 L1830.3,1670.3 L1830.8,1670.5 L1831.3,1670.6 L1831.8,1670.8 L1832.3,1670.9 L1832.8,1671.1 L1833.3,1671.2 L1833.8,1671.4 L1834.3,1671.5 L1834.8,1671.6 L1835.3,1671.8 L1835.8,1671.9 L1836.3,1672.1 L1836.8,1672.2 L1837.3,1672.4 L1837.8,1672.5 L1838.3,1672.6 L1838.8,1672.8 L1839.3,1672.9 L1839.8,1673.1 L1840.3,1673.2 L1840.8,1673.4 L1841.3,1673.5 L1841.8,1673.6 L1842.3,1673.8 L1842.8,1673.9 L1843.3,1674.1 L1843.8,1674.2 L1844.3,1674.4 L1844.8,1674.5 L1845.3,1674.6 L1845.8,1674.8 L1846.3,1674.9 L1846.8,1675.1 L1847.3,1675.2 L1847.8,1675.4 L1848.3,1675.5 L1848.8,1675.6 L1849.3,1675.8 L1849.8,1675.9 L1850.3,1676.1 L1850.8,1676.2 L1851.3,1676.4 L1851.8,1676.5 L1852.3,1676.6 L1852.8,1676.8 L1853.3,1676.9 L1853.8,1677.1 L1854.3,1677.2 L1854.8,1677.3 L1855.3,1677.5 L1855.8,1677.6 L1856.3,1677.8 L1856.8,1677.9 L1857.3,1678.0 L1857.8,1678.2 L1858.3,1678.3 L1858.8,1678.5 L1859.3,1678.6 L1859.8,1678.7 L1860.3,1678.9 L1860.8,1679.0 L1861.3,1679.2 L1861.8,1679.3 L1862.3,1679.5 L1862.8,1679.6 L1863.3,1679.7 L1863.8,1679.9 L1864.3,1680.0 L1864.8,1680.2 L1865.3,1680.3 L1865.8,1680.4 L1866.3,1680.6 L1866.8,1680.7 L1867.3,1680.9 L1867.8,1681.0 L1868.3,1681.1 L1868.8,1681.3 L1869.3,1681.4 L1869.8,1681.5 L1870.3,1681.7 L1870.8,1681.8 L1871.3,1682.0 L1871.8,1682.1 L1872.3,1682.2 L1872.8,1682.4 L1873.3,1682.5 L1873.8,1682.7 L1874.3,1682.8 L1874.8,1682.9 L1875.3,1683.1 L1875.8,1683.2 L1876.3,1683.4 L1876.8,1683.5 L1877.3,1683.6 L1877.8,1683.8 L1878.3,1683.9 L1878.8,1684.0 L1879.3,1684.2 L1879.8,1684.3 L1880.3,1684.5 L1880.8,1684.6 L1881.3,1684.7 L1881.8,1684.9 L1882.3,1685.0 L1882.8,1685.2 L1883.3,1685.3 L1883.8,1685.4 L1884.3,1685.6 L1884.8,1685.7 L1885.3,1685.8 L1885.8,1686.0 L1886.3,1686.1 L1886.8,1686.3 L1887.3,1686.4 L1887.8,1686.5 L1888.3,1686.7 L1888.8,1686.8 L1889.3,1686.9 L1889.8,1687.1 L1890.3,1687.2 L1890.8,1687.4 L1891.3,1687.5 L1891.8,1687.6 L1892.3,1687.8 L1892.8,1687.9 L1893.3,1688.0 L1893.8,1688.2 L1894.3,1688.3 L1894.8,1688.4 L1895.3,1688.6 L1895.8,1688.7 L1896.3,1688.9 L1896.8,1689.0 L1897.3,1689.1 L1897.8,1689.3 L1898.3,1689.4 L1898.8,1689.5 L1899.3,1689.7 L1899.8,1689.8 L1900.3,1689.9 L1900.8,1690.1 L1901.3,1690.2 L1901.8,1690.4 L1902.3,1690.5 L1902.8,1690.6 L1903.3,1690.8 L1903.8,1690.9 L1904.3,1691.0 L1904.8,1691.2 L1905.3,1691.3 L1905.8,1691.4 L1906.3,1691.6 L1906.8,1691.7 L1907.3,1691.8 L1907.8,1692.0 L1908.3,1692.1 L1908.8,1692.2 L1909.3,1692.4 L1909.8,1692.5 L1910.3,1692.7 L1910.8,1692.8 L1911.3,1692.9 L1911.8,1693.1 L1912.3,1693.2 L1912.8,1693.3 L1913.3,1693.5 L1913.8,1693.6 L1914.3,1693.7 L1914.8,1693.9 L1915.3,1694.0 L1915.8,1694.1 L1916.3,1694.3 L1916.8,1694.4 L1917.3,1694.5 L1917.8,1694.7 L1918.3,1694.8 L1918.8,1694.9 L1919.3,1695.1 L1919.8,1695.2 L1920.3,1695.3 L1920.8,1695.5 L1921.3,1695.6 L1921.8,1695.7 L1922.3,1695.9 L1922.8,1696.0 L1923.3,1696.1 L1923.8,1696.3 L1924.3,1696.4 L1924.8,1696.5 L1925.3,1696.7 L1925.8,1696.8 L1926.3,1696.9 L1926.8,1697.1 L1927.3,1697.2 L1927.8,1697.3 L1928.3,1697.5 L1928.8,1697.6 L1929.3,1697.7 L1929.8,1697.9 L1930.3,1698.0 L1930.8,1698.1 L1931.3,1698.3 L1931.8,1698.4 L1932.3,1698.5 L1932.8,1698.7 L1933.3,1698.8 L1933.8,1698.9 L1934.3,1699.1 L1934.8,1699.2 L1935.3,1699.3 L1935.8,1699.5 L1936.3,1699.6 L1936.8,1699.7 L1937.3,1699.9 L1937.8,1700.0 L1938.3,1700.1 L1938.8,1700.2 L1939.3,1700.4 L1939.8,1700.5 L1940.3,1700.6 L1940.8,1700.8 L1941.3,1700.9 L1941.8,1701.0 L1942.3,1701.2 L1942.8,1701.3 L1943.3,1701.4 L1943.8,1701.6 L1944.3,1701.7 L1944.8,1701.8 L1945.3,1702.0 L1945.8,1702.1 L1946.3,1702.2 L1946.8,1702.3 L1947.3,1702.5 L1947.8,1702.6 L1948.3,1702.7 L1948.8,1702.9 L1949.3,1703.0 L1949.8,1703.1 L1950.3,1703.3 L1950.8,1703.4 L1951.3,1703.5 L1951.8,1703.7 L1952.3,1703.8 L1952.8,1703.9 L1953.3,1704.0 L1953.8,1704.2 L1954.3,1704.3 L1954.8,1704.4 L1955.3,1704.6 L1955.8,1704.7 L1956.3,1704.8 L1956.8,1705.0 L1957.3,1705.1 L1957.8,1705.2 L1958.3,1705.3 L1958.8,1705.5 L1959.3,1705.6 L1959.8,1705.7 L1960.3,1705.9 L1960.8,1706.0 L1961.3,1706.1 L1961.8,1706.3 L1962.3,1706.4 L1962.8,1706.5 L1963.3,1706.6 L1963.8,1706.8 L1964.3,1706.9 L1964.8,1707.0 L1965.3,1707.2 L1965.8,1707.3 L1966.3,1707.4 L1966.8,1707.5 L1967.3,1707.7 L1967.8,1707.8 L1968.3,1707.9 L1968.8,1708.1 L1969.3,1708.2 L1969.8,1708.3 L1970.3,1708.4 L1970.8,1708.6 L1971.3,1708.7 L1971.8,1708.8 L1972.3,1709.0 L1972.8,1709.1 L1973.3,1709.2 L1973.8,1709.3 L1974.3,1709.5 L1974.8,1709.6 L1975.3,1709.7 L1975.8,1709.9 L1976.3,1710.0 L1976.8,1710.1 L1977.3,1710.2 L1977.8,1710.4 L1978.3,1710.5 L1978.8,1710.6 L1979.3,1710.7 L1979.8,1710.9 L1980.3,1711.0 L1980.8,1711.1 L1981.3,1711.3 L1981.8,1711.4 L1982.3,1711.5 L1982.8,1711.6 L1983.3,1711.8 L1983.8,1711.9 L1984.3,1712.0 L1984.8,1712.1 L1985.3,1712.3 L1985.8,1712.4 L1986.3,1712.5 L1986.8,1712.7 L1987.3,1712.8 L1987.8,1712.9 L1988.3,1713.0 L1988.8,1713.2 L1989.3,1713.3 L1989.8,1713.4 L1990.3,1713.5 L1990.8,1713.7 L1991.3,1713.8 L1991.8,1713.9 L1992.3,1714.0 L1992.8,1714.2 L1993.3,1714.3 L1993.8,1714.4 L1994.3,1714.6 L1994.8,1714.7 L1995.3,1714.8 L1995.8,1714.9 L1996.3,1715.1 L1996.8,1715.2 L1997.3,1715.3 L1997.8,1715.4 L1998.3,1715.6 L1998.8,1715.7 L1999.3,1715.8 L1999.8,1715.9 L2000.3,1716.1 L2000.8,1716.2 L2001.3,1716.3 L2001.8,1716.4 L2002.3,1716.6 L2002.8,1716.7 L2003.3,1716.8 L2003.8,1716.9 L2004.3,1717.1 L2004.8,1717.2 L2005.3,1717.3 L2005.8,1717.4 L2006.3,1717.6 L2006.8,1717.7 L2007.3,1717.8 L2007.8,1717.9 L2008.3,1718.1 L2008.8,1718.2 L2009.3,1718.3 L2009.8,1718.4 L2010.3,1718.6 L2010.8,1718.7 L2011.3,1718.8 L2011.8,1718.9 L2012.3,1719.1 L2012.8,1719.2 L2013.3,1719.3 L2013.8,1719.4 L2014.3,1719.6 L2014.8,1719.7 L2015.3,1719.8 L2015.8,1719.9 L2016.3,1720.1 L2016.8,1720.2 L2017.3,1720.3 L2017.8,1720.4 L2018.3,1720.6 L2018.8,1720.7 L2019.3,1720.8 L2019.8,1720.9 L2020.3,1721.1 L2020.8,1721.2 L2021.3,1721.3 L2021.8,1721.4 L2022.3,1721.5 L2022.8,1721.7 L2023.3,1721.8 L2023.8,1721.9 L2024.3,1722.0 L2024.8,1722.2 L2025.3,1722.3 L2025.8,1722.4 L2026.3,1722.5 L2026.8,1722.7 L2027.3,1722.8 L2027.8,1722.9 L2028.3,1723.0 L2028.8,1723.1 L2029.3,1723.3 L2029.8,1723.4 L2030.3,1723.5 L2030.8,1723.6 L2031.3,1723.8 L2031.8,1723.9 L2032.3,1724.0 L2032.8,1724.1 L2033.3,1724.3 L2033.8,1724.4 L2034.3,1724.5 L2034.8,1724.6 L2035.3,1724.7 L2035.8,1724.9 L2036.3,1725.0 L2036.8,1725.1 L2037.3,1725.2 L2037.8,1725.4 L2038.3,1725.5 L2038.8,1725.6 L2039.3,1725.7 L2039.8,1725.8 L2040.3,1726.0 L2040.8,1726.1 L2041.3,1726.2 L2041.8,1726.3 L2042.3,1726.5 L2042.8,1726.6 L2043.3,1726.7 L2043.8,1726.8 L2044.3,1726.9 L2044.8,1727.1 L2045.3,1727.2 L2045.8,1727.3 L2046.3,1727.4 L2046.8,1727.5 L2047.3,1727.7 L2047.8,1727.8 L2048.3,1727.9 L2048.8,1728.0 L2049.3,1728.2 L2049.8,1728.3 L2050.3,1728.4 L2050.8,1728.5 L2051.3,1728.6 L2051.8,1728.8 L2052.3,1728.9 L2052.8,1729.0 L2053.3,1729.1 L2053.8,1729.2 L2054.3,1729.4 L2054.8,1729.5 L2055.3,1729.6 L2055.8,1729.7 L2056.3,1729.8 L2056.8,1730.0 L2057.3,1730.1 L2057.8,1730.2 L2058.3,1730.3 L2058.8,1730.4 L2059.3,1730.6 L2059.8,1730.7 L2060.3,1730.8 L2060.8,1730.9 L2061.3,1731.0 L2061.8,1731.2 L2062.3,1731.3 L2062.8,1731.4 L2063.3,1731.5 L2063.8,1731.6 L2064.3,1731.8 L2064.8,1731.9 L2065.3,1732.0 L2065.8,1732.1 L2066.3,1732.2 L2066.8,1732.4 L2067.3,1732.5" fill="none" stroke="#0000ff" stroke-width="5.2" stroke-dasharray="25.6 30.45" stroke-dashoffset="0.64" stroke-linejoin="bevel"/>
<g stroke="#333" stroke-width="2" fill="none">
<line x1="1389.6" y1="1432.8" x2="1471.6" y2="1342.7"/>
<line x1="1390.5" y1="1507.5" x2="1465.1" y2="1413.2"/>
</g>
<g font-family="'Liberation Serif', 'Times New Roman', serif" fill="#000" stroke="#fff" stroke-width="0.5">
<text transform="translate(300.6,1759.9) scale(1.0,1.0)" font-size="60.0" text-anchor="end" letter-spacing="1.6">1</text>
<text transform="translate(300.6,1338.8) scale(1.0,1.0)" font-size="60.0" text-anchor="end" letter-spacing="1.6">10</text>
<text transform="translate(300.6,917.7) scale(1.0,1.0)" font-size="60.0" text-anchor="end" letter-spacing="1.6">100</text>
<text transform="translate(300.6,496.6) scale(1.0,1.0)" font-size="60.0" text-anchor="end" letter-spacing="1.6">1000</text>
<text transform="translate(300.6,75.5) scale(1.0,1.0)" font-size="60.0" text-anchor="end" letter-spacing="1.6">10000</text>
<text transform="translate(383.1,1876.8) scale(1.0,1.0)" font-size="60.0" text-anchor="middle" letter-spacing="1.6">0</text>
<text transform="translate(803.7,1876.8) scale(1.0,1.0)" font-size="60.0" text-anchor="middle" letter-spacing="1.6">1</text>
<text transform="translate(1224.2,1876.8) scale(1.0,1.0)" font-size="60.0" text-anchor="middle" letter-spacing="1.6">2</text>
<text transform="translate(1644.8,1876.8) scale(1.0,1.0)" font-size="60.0" text-anchor="middle" letter-spacing="1.6">3</text>
<text transform="translate(2065.3,1876.8) scale(1.0,1.0)" font-size="60.0" text-anchor="middle" letter-spacing="1.6">4</text>
<text transform="translate(1223.6,1956.0) scale(1.0,1.05)" font-size="70" text-anchor="middle">Frequency f (Hz)</text>
<g transform="translate(104.8,1208.2) rotate(-90)">
<text x="0.00" y="0" font-size="61.4">Amplitude {X</text>
<text transform="translate(351.75,16.5) scale(0.87,1)" font-size="41" stroke="#000" stroke-width="0.6">11</text>
<text x="391.23" y="0" font-size="61.4">,X</text>
<text transform="translate(450.92,16.5) scale(0.87,1)" font-size="41" stroke="#000" stroke-width="0.6">21</text>
<text x="491.92" y="0" font-size="61.4">} (m)</text>
</g>
<text transform="translate(1468.5,1350.7) scale(1.0,1.0)" font-size="62" text-anchor="start" stroke="none">X</text>
<text transform="translate(1517.5,1364.2) scale(0.89,1.03)" font-size="41" text-anchor="start" stroke="#000" stroke-width="0.9">11</text>
<text transform="translate(1468.5,1429.0) scale(1.0,1.0)" font-size="62" text-anchor="start" stroke="none">X</text>
<text transform="translate(1515.0,1442.5) scale(0.89,1.03)" font-size="41" text-anchor="start" stroke="#000" stroke-width="0.9">21</text>
</g>
</svg>
</body>
</html>
